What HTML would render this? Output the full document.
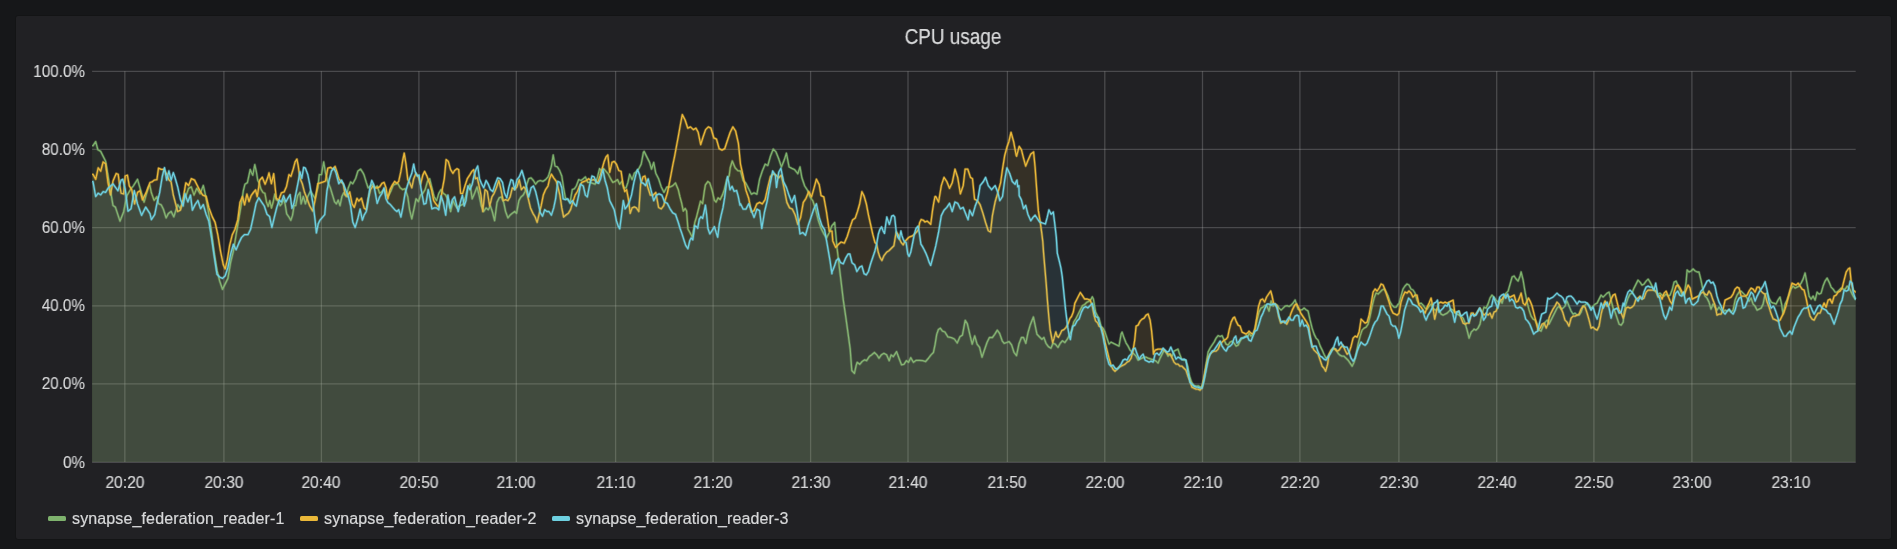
<!DOCTYPE html>
<html><head><meta charset="utf-8"><title>CPU usage</title>
<style>
html,body{margin:0;padding:0;}
body{width:1897px;height:549px;background:#161719;overflow:hidden;position:relative;font-family:"Liberation Sans",sans-serif;}
.panel{position:absolute;left:15px;top:15px;width:1875px;height:523px;background:#212124;border:1px solid #131415;border-radius:3px;}
.title{position:absolute;left:0;top:25px;width:1906px;text-align:center;color:#d8d9da;font-size:22px;line-height:24px;transform:scaleX(0.86);-webkit-text-stroke:0.25px #d8d9da;will-change:transform;}
.xl{position:absolute;top:473px;will-change:transform;transform:scaleX(0.975);-webkit-text-stroke:0.15px #d8d9da;width:80px;text-align:center;color:#d8d9da;font-size:16px;line-height:20px;}
.yl{position:absolute;left:0;width:85px;text-align:right;transform:scaleX(0.955);transform-origin:85px 0;-webkit-text-stroke:0.15px #d8d9da;will-change:transform;color:#d8d9da;font-size:16px;line-height:20px;}
.lg{position:absolute;top:507.5px;-webkit-text-stroke:0.2px #d8d9da;letter-spacing:0.13px;will-change:transform;height:22px;color:#d8d9da;font-size:16px;line-height:22px;}
.sw{position:absolute;width:17.7px;height:5.2px;border-radius:1.5px;top:515.8px;}
svg{position:absolute;left:0;top:0;}
</style></head><body>
<div class="panel"></div>
<div class="title">CPU usage</div>
<svg width="1897" height="549" viewBox="0 0 1897 549">
<g stroke="rgba(200,200,200,0.25)" stroke-width="1.3"><line x1="92.1" y1="71.30" x2="1855.7" y2="71.30"/><line x1="92.1" y1="149.40" x2="1855.7" y2="149.40"/><line x1="92.1" y1="227.65" x2="1855.7" y2="227.65"/><line x1="92.1" y1="305.90" x2="1855.7" y2="305.90"/><line x1="92.1" y1="383.95" x2="1855.7" y2="383.95"/><line x1="92.1" y1="462.30" x2="1855.7" y2="462.30"/><line x1="124.84" y1="71.3" x2="124.84" y2="462.0"/><line x1="223.90" y1="71.3" x2="223.90" y2="462.0"/><line x1="321.40" y1="71.3" x2="321.40" y2="462.0"/><line x1="418.90" y1="71.3" x2="418.90" y2="462.0"/><line x1="516.30" y1="71.3" x2="516.30" y2="462.0"/><line x1="615.60" y1="71.3" x2="615.60" y2="462.0"/><line x1="713.10" y1="71.3" x2="713.10" y2="462.0"/><line x1="810.60" y1="71.3" x2="810.60" y2="462.0"/><line x1="908.00" y1="71.3" x2="908.00" y2="462.0"/><line x1="1007.40" y1="71.3" x2="1007.40" y2="462.0"/><line x1="1104.80" y1="71.3" x2="1104.80" y2="462.0"/><line x1="1202.50" y1="71.3" x2="1202.50" y2="462.0"/><line x1="1299.90" y1="71.3" x2="1299.90" y2="462.0"/><line x1="1398.90" y1="71.3" x2="1398.90" y2="462.0"/><line x1="1496.70" y1="71.3" x2="1496.70" y2="462.0"/><line x1="1593.90" y1="71.3" x2="1593.90" y2="462.0"/><line x1="1691.90" y1="71.3" x2="1691.90" y2="462.0"/><line x1="1790.90" y1="71.3" x2="1790.90" y2="462.0"/></g>
<path d="M92.1,462.0 L92.1,145.7 L93.0,145.7 L95.7,141.6 L97.9,149.8 L100.7,151.4 L105.6,161.2 L109.7,185.8 L113.0,205.5 L115.4,207.1 L120.0,221.1 L123.6,212.0 L126.9,195.7 L130.7,189.1 L133.4,185.8 L137.5,179.3 L140.8,190.7 L144.1,202.2 L148.2,187.5 L149.8,185.1 L151.4,192.8 L154.1,200.4 L156.9,196.6 L158.5,203.7 L161.2,204.8 L163.4,209.2 L166.1,217.9 L168.3,213.6 L171.1,211.4 L173.8,216.8 L177.7,204.6 L180.4,208.7 L183.1,200.5 L185.8,196.4 L188.6,188.3 L191.3,186.9 L194.0,195.1 L196.8,188.3 L200.1,193.7 L203.3,185.5 L206.1,197.8 L208.8,214.2 L211.5,232.0 L214.3,253.8 L217.0,270.2 L219.7,281.1 L222.5,289.3 L225.2,283.9 L227.9,278.4 L230.7,262.0 L233.4,251.1 L236.1,234.7 L238.9,218.3 L240.0,212.1 L241.6,202.3 L243.3,190.8 L244.9,184.3 L247.4,182.6 L249.0,175.2 L250.2,169.5 L251.5,172.8 L252.8,175.2 L254.8,164.6 L256.4,172.0 L257.7,180.2 L259.3,183.4 L261.0,189.2 L263.0,192.5 L264.9,193.3 L266.6,202.3 L268.2,206.4 L269.8,200.7 L271.5,208.0 L273.1,202.3 L274.8,194.1 L276.4,199.8 L278.0,200.7 L280.2,205.6 L281.8,203.9 L283.4,199.0 L285.1,203.9 L286.7,213.8 L288.9,217.0 L290.8,220.3 L292.5,215.4 L294.1,205.6 L295.7,205.6 L297.7,195.7 L300.0,192.5 L301.1,203.8 L303.3,196.5 L305.4,203.8 L307.8,196.5 L310.5,191.0 L312.7,194.6 L315.1,198.3 L317.8,187.4 L319.3,174.6 L321.5,174.6 L323.7,161.9 L325.5,172.8 L327.8,181.9 L330.2,187.4 L332.4,194.6 L334.6,201.9 L336.4,203.8 L338.2,200.1 L340.0,205.6 L341.9,196.5 L343.7,192.8 L346.1,196.5 L348.4,187.4 L350.6,181.9 L352.8,183.7 L355.7,178.3 L357.9,171.0 L360.6,169.1 L363.0,172.8 L364.1,175.1 L366.3,182.4 L368.1,187.8 L370.5,186.0 L372.9,184.2 L375.0,187.8 L377.2,186.0 L379.6,193.3 L382.0,191.5 L384.1,189.6 L386.3,195.1 L388.7,195.1 L391.1,190.6 L393.3,185.1 L395.4,184.2 L397.8,183.3 L400.2,187.8 L402.7,189.6 L405.1,188.7 L407.8,196.9 L409.6,209.7 L411.8,218.8 L414.2,207.9 L416.0,198.8 L418.4,201.5 L420.6,195.1 L422.8,193.3 L425.1,189.6 L427.5,181.4 L429.7,178.7 L431.9,187.8 L434.2,196.9 L436.6,200.6 L438.8,193.3 L441.0,189.6 L443.3,193.3 L445.7,195.1 L448.3,200.6 L450.6,211.5 L453.0,200.6 L454.6,204.2 L456.9,207.9 L459.1,206.0 L461.3,205.1 L463.1,204.2 L465.5,196.9 L467.9,187.8 L470.0,184.2 L472.2,198.8 L474.6,193.3 L477.0,186.9 L479.1,195.1 L481.3,206.0 L483.7,211.5 L486.1,207.9 L488.3,209.7 L490.4,206.0 L492.3,211.5 L494.6,220.6 L497.0,202.4 L499.2,197.8 L501.4,196.9 L503.7,202.4 L505.6,211.5 L507.9,217.9 L510.1,215.1 L512.3,213.3 L514.7,211.5 L516.5,213.3 L518.9,200.6 L521.0,196.9 L523.2,195.1 L525.0,191.5 L526.9,184.2 L528.7,178.7 L531.1,177.8 L533.4,180.5 L535.6,184.2 L537.8,181.4 L540.2,180.5 L542.9,181.4 L545.6,179.6 L548.0,176.9 L549.0,174.2 L551.4,166.0 L553.2,155.0 L555.0,166.0 L557.4,166.9 L559.6,170.5 L561.8,176.0 L563.6,187.8 L565.4,197.8 L567.8,199.7 L570.1,202.4 L572.3,189.6 L574.5,188.7 L576.3,186.0 L578.7,179.6 L581.1,180.5 L583.3,178.7 L585.4,176.9 L587.8,182.4 L590.2,182.4 L592.7,183.3 L595.1,184.2 L597.5,176.9 L599.6,168.7 L601.8,171.4 L603.7,168.7 L606.0,171.4 L608.4,174.2 L610.6,178.7 L612.8,182.4 L615.1,181.4 L617.5,179.6 L619.7,184.2 L621.9,181.4 L623.7,187.8 L626.1,187.8 L627.9,182.4 L629.7,174.2 L632.1,179.6 L634.3,173.3 L636.4,171.4 L638.8,168.7 L641.2,164.1 L643.4,152.3 L644.1,151.4 L646.8,156.9 L649.6,162.4 L651.5,169.2 L653.7,162.4 L655.8,173.3 L658.6,178.8 L661.3,187.0 L664.0,192.4 L666.8,187.0 L670.1,187.0 L672.8,185.6 L675.5,182.9 L678.3,189.7 L680.0,197.0 L681.6,202.8 L683.3,211.0 L685.2,208.5 L686.6,211.0 L687.9,229.0 L689.8,232.3 L692.3,237.2 L694.8,222.5 L696.4,217.5 L698.0,211.0 L700.5,201.1 L702.6,203.6 L704.3,191.3 L705.4,184.8 L707.9,181.5 L709.8,183.1 L712.0,189.7 L714.4,200.3 L716.1,202.0 L718.0,197.9 L720.2,199.5 L722.6,194.6 L724.3,189.7 L726.7,179.8 L729.2,175.7 L730.2,167.8 L732.3,161.0 L735.1,167.8 L737.8,170.6 L740.5,171.0 L743.2,180.5 L745.9,183.3 L748.7,188.7 L751.4,194.2 L754.1,192.8 L756.9,194.2 L759.6,179.2 L762.3,171.0 L765.1,164.2 L767.8,165.5 L770.5,156.0 L773.3,149.1 L776.0,151.9 L778.7,158.7 L781.4,166.9 L784.2,160.1 L786.4,153.2 L789.1,166.9 L791.8,168.3 L794.6,169.6 L797.8,173.7 L800.0,166.9 L801.9,177.8 L804.7,186.0 L807.4,190.1 L810.1,196.9 L812.9,201.0 L815.6,209.2 L818.3,220.2 L821.1,228.4 L823.8,233.8 L826.5,237.9 L829.3,232.5 L832.0,225.6 L834.7,222.5 L837.1,248.4 L843.3,300.0 L845.7,316.4 L848.2,334.4 L850.2,349.2 L851.8,370.5 L854.4,373.4 L856.1,365.6 L857.2,362.3 L859.7,364.3 L862.1,361.5 L864.6,359.8 L866.6,360.7 L869.2,356.6 L871.5,354.9 L874.4,352.5 L876.9,354.9 L879.0,358.2 L881.3,354.9 L883.9,353.3 L886.7,354.9 L889.2,360.7 L891.1,354.9 L893.3,356.6 L896.6,351.6 L899.0,358.2 L901.5,364.8 L903.9,364.3 L906.4,360.7 L908.5,362.3 L910.8,357.7 L913.4,362.3 L916.2,360.3 L919.5,360.3 L922.8,360.7 L925.6,361.5 L928.5,358.2 L931.0,354.9 L933.4,352.5 L935.1,344.3 L936.7,334.4 L938.4,329.5 L940.3,328.2 L942.5,331.1 L944.9,332.0 L947.9,336.9 L951.5,337.7 L954.4,339.0 L957.2,343.0 L959.9,336.7 L962.4,335.1 L965.2,320.3 L967.3,323.6 L969.8,334.3 L972.2,344.1 L974.7,335.9 L977.1,344.1 L979.6,347.4 L982.0,357.2 L984.5,349.8 L987.0,342.5 L989.4,337.5 L992.4,337.5 L994.7,334.3 L997.3,330.2 L999.6,333.4 L1002.2,340.8 L1004.2,343.3 L1006.6,342.5 L1009.1,341.6 L1011.6,344.9 L1014.0,352.3 L1016.5,355.6 L1018.9,344.1 L1021.4,337.5 L1023.5,337.5 L1025.8,343.3 L1028.0,332.6 L1030.4,324.4 L1033.4,317.0 L1035.3,326.1 L1037.0,334.3 L1039.4,336.7 L1041.9,339.2 L1043.9,337.5 L1046.0,343.3 L1048.4,346.6 L1050.9,348.2 L1053.0,343.3 L1055.3,344.1 L1058.0,347.4 L1060.2,343.3 L1062.4,340.8 L1064.8,342.5 L1067.3,339.2 L1069.8,334.3 L1072.2,329.3 L1073.7,322.0 L1075.9,318.7 L1078.1,314.3 L1080.3,309.9 L1082.5,305.6 L1084.6,304.5 L1086.8,302.3 L1089.0,301.2 L1091.2,299.0 L1092.3,296.8 L1093.4,299.0 L1095.6,312.1 L1097.8,316.5 L1099.0,318.1 L1101.0,326.1 L1103.0,328.1 L1105.0,332.1 L1107.0,338.1 L1109.0,344.1 L1111.0,342.1 L1113.0,343.1 L1115.0,344.1 L1117.0,345.1 L1119.0,346.1 L1121.1,334.1 L1122.1,332.1 L1124.1,338.1 L1126.1,343.1 L1128.1,346.1 L1130.1,350.1 L1132.1,352.1 L1134.1,354.1 L1136.1,356.1 L1138.1,360.1 L1140.1,359.1 L1142.1,358.1 L1144.1,357.1 L1146.1,357.1 L1148.1,358.1 L1151.1,359.1 L1154.1,360.1 L1156.1,361.1 L1158.1,363.1 L1160.1,358.1 L1162.1,354.1 L1164.1,350.1 L1166.1,352.1 L1168.1,356.1 L1170.2,354.1 L1172.2,356.1 L1174.0,351.1 L1176.0,350.1 L1178.0,349.1 L1179.6,354.1 L1181.6,359.1 L1183.6,360.1 L1185.6,360.1 L1187.6,366.2 L1189.6,376.2 L1191.6,382.2 L1193.6,385.2 L1196.1,386.2 L1198.5,385.8 L1200.5,387.2 L1202.1,386.2 L1204.1,378.2 L1206.1,364.1 L1208.1,352.1 L1210.1,348.1 L1212.1,345.1 L1214.1,342.1 L1216.1,338.1 L1218.1,335.7 L1220.1,336.5 L1222.1,335.7 L1224.1,340.1 L1226.1,344.1 L1228.1,345.1 L1230.1,342.1 L1232.1,341.1 L1234.1,343.1 L1236.1,346.1 L1238.1,345.1 L1240.1,341.1 L1242.1,338.1 L1244.1,337.1 L1246.2,335.7 L1248.2,336.1 L1249.0,333.1 L1251.0,336.1 L1253.0,334.1 L1255.0,330.1 L1257.0,320.1 L1259.0,312.1 L1261.0,308.1 L1263.0,307.1 L1265.0,305.1 L1267.0,306.1 L1269.0,311.1 L1271.1,301.0 L1273.1,306.1 L1275.1,304.0 L1277.1,305.1 L1279.1,308.1 L1281.1,310.1 L1283.1,308.1 L1285.1,306.1 L1287.1,305.7 L1289.1,306.5 L1291.1,305.1 L1293.1,303.0 L1295.1,300.0 L1296.7,305.1 L1298.1,309.1 L1300.1,310.1 L1302.1,309.7 L1304.1,308.1 L1306.1,309.7 L1308.1,311.1 L1310.1,320.1 L1312.1,328.1 L1314.1,334.1 L1316.1,338.1 L1318.1,340.1 L1320.2,346.1 L1322.2,350.1 L1324.0,354.2 L1326.0,358.2 L1328.0,356.2 L1330.0,353.2 L1332.0,350.2 L1334.0,348.2 L1336.0,349.2 L1338.0,353.2 L1340.0,355.2 L1342.0,356.2 L1344.0,356.2 L1346.1,358.2 L1348.1,360.2 L1350.1,363.2 L1352.1,366.2 L1354.1,362.2 L1356.1,354.2 L1358.1,344.1 L1360.1,336.1 L1362.1,330.1 L1364.1,328.1 L1366.1,327.1 L1368.1,324.1 L1370.1,316.1 L1372.1,306.1 L1374.1,298.1 L1376.1,293.0 L1378.1,294.0 L1380.1,292.0 L1382.1,290.0 L1384.1,289.0 L1386.1,292.0 L1388.1,296.1 L1390.1,302.1 L1392.1,305.1 L1394.1,307.1 L1396.2,307.1 L1398.2,304.1 L1399.0,304.1 L1401.0,296.1 L1403.0,289.0 L1405.0,286.0 L1407.0,284.0 L1409.0,285.0 L1411.0,289.0 L1413.0,290.0 L1415.0,293.0 L1417.0,300.1 L1419.0,304.1 L1421.1,303.1 L1423.1,305.1 L1425.1,308.1 L1427.1,309.1 L1429.1,306.1 L1431.1,304.1 L1433.1,308.1 L1435.1,310.1 L1437.1,309.1 L1439.1,310.1 L1441.1,314.1 L1443.1,315.1 L1445.1,314.1 L1447.1,313.1 L1449.1,311.1 L1451.1,309.1 L1453.1,310.1 L1455.1,313.1 L1457.1,314.1 L1459.1,315.1 L1461.1,316.1 L1463.1,318.1 L1465.1,323.1 L1467.1,330.1 L1469.1,338.1 L1471.2,332.1 L1473.2,330.1 L1474.0,329.1 L1476.0,330.1 L1478.0,328.1 L1480.0,324.1 L1482.0,314.1 L1484.0,307.1 L1486.0,308.1 L1488.0,304.1 L1490.0,298.1 L1492.0,295.1 L1494.0,297.1 L1496.1,300.1 L1498.1,302.1 L1500.1,299.1 L1502.1,303.1 L1504.1,296.1 L1506.1,293.1 L1508.1,291.1 L1510.1,284.0 L1512.1,277.0 L1514.1,276.0 L1516.1,279.0 L1518.1,281.0 L1520.1,276.0 L1521.1,272.0 L1523.1,280.0 L1525.1,292.1 L1527.1,302.1 L1529.1,310.1 L1531.1,316.1 L1533.1,319.1 L1535.1,320.1 L1537.1,324.1 L1539.1,330.1 L1541.1,331.1 L1543.1,326.1 L1545.2,322.1 L1547.2,320.1 L1549.0,324.1 L1551.0,320.1 L1553.0,316.1 L1555.0,312.1 L1557.0,308.1 L1559.0,306.1 L1561.0,309.1 L1563.0,308.1 L1565.0,306.1 L1567.0,301.1 L1569.0,306.1 L1571.1,311.1 L1573.1,314.1 L1575.1,313.1 L1577.1,315.1 L1579.1,315.1 L1581.1,312.1 L1583.1,306.1 L1585.1,305.1 L1587.1,303.1 L1589.1,305.1 L1591.1,308.1 L1593.1,306.1 L1595.1,304.1 L1597.1,303.1 L1599.1,299.1 L1601.1,295.1 L1603.1,297.1 L1605.1,295.1 L1607.1,293.1 L1609.1,292.1 L1611.1,300.1 L1613.1,308.1 L1615.1,312.1 L1617.1,318.1 L1619.1,324.1 L1621.2,325.1 L1623.2,322.1 L1624.0,312.1 L1626.0,304.1 L1628.0,298.1 L1630.0,294.1 L1632.0,293.1 L1634.0,288.1 L1636.0,284.1 L1638.0,280.1 L1640.0,282.1 L1642.0,285.1 L1644.0,284.1 L1646.1,281.1 L1648.1,279.1 L1650.1,282.1 L1652.1,286.1 L1654.1,290.1 L1656.1,292.1 L1658.1,294.1 L1660.1,293.1 L1662.1,295.1 L1664.1,296.1 L1666.1,294.1 L1668.1,296.1 L1670.1,295.1 L1672.1,290.1 L1674.1,282.1 L1676.1,281.1 L1678.1,286.1 L1680.1,290.1 L1682.1,295.1 L1684.1,295.1 L1686.1,282.1 L1687.1,270.0 L1689.1,272.0 L1691.1,271.0 L1693.1,269.0 L1695.2,271.0 L1697.2,272.0 L1699.0,272.0 L1701.0,280.1 L1703.0,290.1 L1705.0,296.1 L1707.0,298.1 L1709.0,302.1 L1711.0,309.1 L1713.0,304.1 L1715.0,307.1 L1717.0,310.1 L1719.0,307.1 L1721.1,310.1 L1723.1,312.1 L1725.1,310.1 L1727.1,311.1 L1729.1,310.1 L1731.1,312.1 L1733.1,310.1 L1735.1,300.1 L1737.1,295.1 L1739.1,292.1 L1741.1,291.1 L1743.1,293.1 L1745.1,295.1 L1747.1,298.1 L1749.1,301.1 L1751.1,298.1 L1753.1,304.1 L1755.1,306.1 L1757.1,310.1 L1759.1,309.1 L1761.1,308.1 L1763.1,304.1 L1765.1,294.1 L1767.1,293.1 L1769.1,298.1 L1771.2,302.1 L1773.2,303.1 L1774.0,303.1 L1776.0,304.1 L1778.0,300.1 L1780.0,297.1 L1781.6,304.1 L1783.0,314.1 L1785.0,304.1 L1787.0,300.1 L1789.0,295.1 L1791.0,289.1 L1793.0,286.1 L1795.1,288.1 L1797.1,287.1 L1799.1,286.1 L1801.1,283.1 L1803.1,279.1 L1805.1,273.0 L1807.1,284.1 L1809.1,296.1 L1811.1,299.1 L1813.1,296.1 L1815.1,300.1 L1817.1,292.1 L1819.1,294.1 L1821.1,293.1 L1823.1,286.1 L1825.1,281.1 L1827.1,278.1 L1829.1,282.1 L1831.1,287.1 L1833.1,289.1 L1835.1,292.1 L1837.1,292.1 L1839.1,290.1 L1841.1,288.1 L1843.1,289.1 L1845.2,289.1 L1847.2,286.1 L1849.2,288.1 L1851.2,292.1 L1853.2,296.1 L1855.4,299.1 L1855.7,299.1 L1855.7,462.0 Z" fill="#7EB26D" fill-opacity="0.1" stroke="none"/><polyline points="92.1,145.7 93.0,145.7 95.7,141.6 97.9,149.8 100.7,151.4 105.6,161.2 109.7,185.8 113.0,205.5 115.4,207.1 120.0,221.1 123.6,212.0 126.9,195.7 130.7,189.1 133.4,185.8 137.5,179.3 140.8,190.7 144.1,202.2 148.2,187.5 149.8,185.1 151.4,192.8 154.1,200.4 156.9,196.6 158.5,203.7 161.2,204.8 163.4,209.2 166.1,217.9 168.3,213.6 171.1,211.4 173.8,216.8 177.7,204.6 180.4,208.7 183.1,200.5 185.8,196.4 188.6,188.3 191.3,186.9 194.0,195.1 196.8,188.3 200.1,193.7 203.3,185.5 206.1,197.8 208.8,214.2 211.5,232.0 214.3,253.8 217.0,270.2 219.7,281.1 222.5,289.3 225.2,283.9 227.9,278.4 230.7,262.0 233.4,251.1 236.1,234.7 238.9,218.3 240.0,212.1 241.6,202.3 243.3,190.8 244.9,184.3 247.4,182.6 249.0,175.2 250.2,169.5 251.5,172.8 252.8,175.2 254.8,164.6 256.4,172.0 257.7,180.2 259.3,183.4 261.0,189.2 263.0,192.5 264.9,193.3 266.6,202.3 268.2,206.4 269.8,200.7 271.5,208.0 273.1,202.3 274.8,194.1 276.4,199.8 278.0,200.7 280.2,205.6 281.8,203.9 283.4,199.0 285.1,203.9 286.7,213.8 288.9,217.0 290.8,220.3 292.5,215.4 294.1,205.6 295.7,205.6 297.7,195.7 300.0,192.5 301.1,203.8 303.3,196.5 305.4,203.8 307.8,196.5 310.5,191.0 312.7,194.6 315.1,198.3 317.8,187.4 319.3,174.6 321.5,174.6 323.7,161.9 325.5,172.8 327.8,181.9 330.2,187.4 332.4,194.6 334.6,201.9 336.4,203.8 338.2,200.1 340.0,205.6 341.9,196.5 343.7,192.8 346.1,196.5 348.4,187.4 350.6,181.9 352.8,183.7 355.7,178.3 357.9,171.0 360.6,169.1 363.0,172.8 364.1,175.1 366.3,182.4 368.1,187.8 370.5,186.0 372.9,184.2 375.0,187.8 377.2,186.0 379.6,193.3 382.0,191.5 384.1,189.6 386.3,195.1 388.7,195.1 391.1,190.6 393.3,185.1 395.4,184.2 397.8,183.3 400.2,187.8 402.7,189.6 405.1,188.7 407.8,196.9 409.6,209.7 411.8,218.8 414.2,207.9 416.0,198.8 418.4,201.5 420.6,195.1 422.8,193.3 425.1,189.6 427.5,181.4 429.7,178.7 431.9,187.8 434.2,196.9 436.6,200.6 438.8,193.3 441.0,189.6 443.3,193.3 445.7,195.1 448.3,200.6 450.6,211.5 453.0,200.6 454.6,204.2 456.9,207.9 459.1,206.0 461.3,205.1 463.1,204.2 465.5,196.9 467.9,187.8 470.0,184.2 472.2,198.8 474.6,193.3 477.0,186.9 479.1,195.1 481.3,206.0 483.7,211.5 486.1,207.9 488.3,209.7 490.4,206.0 492.3,211.5 494.6,220.6 497.0,202.4 499.2,197.8 501.4,196.9 503.7,202.4 505.6,211.5 507.9,217.9 510.1,215.1 512.3,213.3 514.7,211.5 516.5,213.3 518.9,200.6 521.0,196.9 523.2,195.1 525.0,191.5 526.9,184.2 528.7,178.7 531.1,177.8 533.4,180.5 535.6,184.2 537.8,181.4 540.2,180.5 542.9,181.4 545.6,179.6 548.0,176.9 549.0,174.2 551.4,166.0 553.2,155.0 555.0,166.0 557.4,166.9 559.6,170.5 561.8,176.0 563.6,187.8 565.4,197.8 567.8,199.7 570.1,202.4 572.3,189.6 574.5,188.7 576.3,186.0 578.7,179.6 581.1,180.5 583.3,178.7 585.4,176.9 587.8,182.4 590.2,182.4 592.7,183.3 595.1,184.2 597.5,176.9 599.6,168.7 601.8,171.4 603.7,168.7 606.0,171.4 608.4,174.2 610.6,178.7 612.8,182.4 615.1,181.4 617.5,179.6 619.7,184.2 621.9,181.4 623.7,187.8 626.1,187.8 627.9,182.4 629.7,174.2 632.1,179.6 634.3,173.3 636.4,171.4 638.8,168.7 641.2,164.1 643.4,152.3 644.1,151.4 646.8,156.9 649.6,162.4 651.5,169.2 653.7,162.4 655.8,173.3 658.6,178.8 661.3,187.0 664.0,192.4 666.8,187.0 670.1,187.0 672.8,185.6 675.5,182.9 678.3,189.7 680.0,197.0 681.6,202.8 683.3,211.0 685.2,208.5 686.6,211.0 687.9,229.0 689.8,232.3 692.3,237.2 694.8,222.5 696.4,217.5 698.0,211.0 700.5,201.1 702.6,203.6 704.3,191.3 705.4,184.8 707.9,181.5 709.8,183.1 712.0,189.7 714.4,200.3 716.1,202.0 718.0,197.9 720.2,199.5 722.6,194.6 724.3,189.7 726.7,179.8 729.2,175.7 730.2,167.8 732.3,161.0 735.1,167.8 737.8,170.6 740.5,171.0 743.2,180.5 745.9,183.3 748.7,188.7 751.4,194.2 754.1,192.8 756.9,194.2 759.6,179.2 762.3,171.0 765.1,164.2 767.8,165.5 770.5,156.0 773.3,149.1 776.0,151.9 778.7,158.7 781.4,166.9 784.2,160.1 786.4,153.2 789.1,166.9 791.8,168.3 794.6,169.6 797.8,173.7 800.0,166.9 801.9,177.8 804.7,186.0 807.4,190.1 810.1,196.9 812.9,201.0 815.6,209.2 818.3,220.2 821.1,228.4 823.8,233.8 826.5,237.9 829.3,232.5 832.0,225.6 834.7,222.5 837.1,248.4 843.3,300.0 845.7,316.4 848.2,334.4 850.2,349.2 851.8,370.5 854.4,373.4 856.1,365.6 857.2,362.3 859.7,364.3 862.1,361.5 864.6,359.8 866.6,360.7 869.2,356.6 871.5,354.9 874.4,352.5 876.9,354.9 879.0,358.2 881.3,354.9 883.9,353.3 886.7,354.9 889.2,360.7 891.1,354.9 893.3,356.6 896.6,351.6 899.0,358.2 901.5,364.8 903.9,364.3 906.4,360.7 908.5,362.3 910.8,357.7 913.4,362.3 916.2,360.3 919.5,360.3 922.8,360.7 925.6,361.5 928.5,358.2 931.0,354.9 933.4,352.5 935.1,344.3 936.7,334.4 938.4,329.5 940.3,328.2 942.5,331.1 944.9,332.0 947.9,336.9 951.5,337.7 954.4,339.0 957.2,343.0 959.9,336.7 962.4,335.1 965.2,320.3 967.3,323.6 969.8,334.3 972.2,344.1 974.7,335.9 977.1,344.1 979.6,347.4 982.0,357.2 984.5,349.8 987.0,342.5 989.4,337.5 992.4,337.5 994.7,334.3 997.3,330.2 999.6,333.4 1002.2,340.8 1004.2,343.3 1006.6,342.5 1009.1,341.6 1011.6,344.9 1014.0,352.3 1016.5,355.6 1018.9,344.1 1021.4,337.5 1023.5,337.5 1025.8,343.3 1028.0,332.6 1030.4,324.4 1033.4,317.0 1035.3,326.1 1037.0,334.3 1039.4,336.7 1041.9,339.2 1043.9,337.5 1046.0,343.3 1048.4,346.6 1050.9,348.2 1053.0,343.3 1055.3,344.1 1058.0,347.4 1060.2,343.3 1062.4,340.8 1064.8,342.5 1067.3,339.2 1069.8,334.3 1072.2,329.3 1073.7,322.0 1075.9,318.7 1078.1,314.3 1080.3,309.9 1082.5,305.6 1084.6,304.5 1086.8,302.3 1089.0,301.2 1091.2,299.0 1092.3,296.8 1093.4,299.0 1095.6,312.1 1097.8,316.5 1099.0,318.1 1101.0,326.1 1103.0,328.1 1105.0,332.1 1107.0,338.1 1109.0,344.1 1111.0,342.1 1113.0,343.1 1115.0,344.1 1117.0,345.1 1119.0,346.1 1121.1,334.1 1122.1,332.1 1124.1,338.1 1126.1,343.1 1128.1,346.1 1130.1,350.1 1132.1,352.1 1134.1,354.1 1136.1,356.1 1138.1,360.1 1140.1,359.1 1142.1,358.1 1144.1,357.1 1146.1,357.1 1148.1,358.1 1151.1,359.1 1154.1,360.1 1156.1,361.1 1158.1,363.1 1160.1,358.1 1162.1,354.1 1164.1,350.1 1166.1,352.1 1168.1,356.1 1170.2,354.1 1172.2,356.1 1174.0,351.1 1176.0,350.1 1178.0,349.1 1179.6,354.1 1181.6,359.1 1183.6,360.1 1185.6,360.1 1187.6,366.2 1189.6,376.2 1191.6,382.2 1193.6,385.2 1196.1,386.2 1198.5,385.8 1200.5,387.2 1202.1,386.2 1204.1,378.2 1206.1,364.1 1208.1,352.1 1210.1,348.1 1212.1,345.1 1214.1,342.1 1216.1,338.1 1218.1,335.7 1220.1,336.5 1222.1,335.7 1224.1,340.1 1226.1,344.1 1228.1,345.1 1230.1,342.1 1232.1,341.1 1234.1,343.1 1236.1,346.1 1238.1,345.1 1240.1,341.1 1242.1,338.1 1244.1,337.1 1246.2,335.7 1248.2,336.1 1249.0,333.1 1251.0,336.1 1253.0,334.1 1255.0,330.1 1257.0,320.1 1259.0,312.1 1261.0,308.1 1263.0,307.1 1265.0,305.1 1267.0,306.1 1269.0,311.1 1271.1,301.0 1273.1,306.1 1275.1,304.0 1277.1,305.1 1279.1,308.1 1281.1,310.1 1283.1,308.1 1285.1,306.1 1287.1,305.7 1289.1,306.5 1291.1,305.1 1293.1,303.0 1295.1,300.0 1296.7,305.1 1298.1,309.1 1300.1,310.1 1302.1,309.7 1304.1,308.1 1306.1,309.7 1308.1,311.1 1310.1,320.1 1312.1,328.1 1314.1,334.1 1316.1,338.1 1318.1,340.1 1320.2,346.1 1322.2,350.1 1324.0,354.2 1326.0,358.2 1328.0,356.2 1330.0,353.2 1332.0,350.2 1334.0,348.2 1336.0,349.2 1338.0,353.2 1340.0,355.2 1342.0,356.2 1344.0,356.2 1346.1,358.2 1348.1,360.2 1350.1,363.2 1352.1,366.2 1354.1,362.2 1356.1,354.2 1358.1,344.1 1360.1,336.1 1362.1,330.1 1364.1,328.1 1366.1,327.1 1368.1,324.1 1370.1,316.1 1372.1,306.1 1374.1,298.1 1376.1,293.0 1378.1,294.0 1380.1,292.0 1382.1,290.0 1384.1,289.0 1386.1,292.0 1388.1,296.1 1390.1,302.1 1392.1,305.1 1394.1,307.1 1396.2,307.1 1398.2,304.1 1399.0,304.1 1401.0,296.1 1403.0,289.0 1405.0,286.0 1407.0,284.0 1409.0,285.0 1411.0,289.0 1413.0,290.0 1415.0,293.0 1417.0,300.1 1419.0,304.1 1421.1,303.1 1423.1,305.1 1425.1,308.1 1427.1,309.1 1429.1,306.1 1431.1,304.1 1433.1,308.1 1435.1,310.1 1437.1,309.1 1439.1,310.1 1441.1,314.1 1443.1,315.1 1445.1,314.1 1447.1,313.1 1449.1,311.1 1451.1,309.1 1453.1,310.1 1455.1,313.1 1457.1,314.1 1459.1,315.1 1461.1,316.1 1463.1,318.1 1465.1,323.1 1467.1,330.1 1469.1,338.1 1471.2,332.1 1473.2,330.1 1474.0,329.1 1476.0,330.1 1478.0,328.1 1480.0,324.1 1482.0,314.1 1484.0,307.1 1486.0,308.1 1488.0,304.1 1490.0,298.1 1492.0,295.1 1494.0,297.1 1496.1,300.1 1498.1,302.1 1500.1,299.1 1502.1,303.1 1504.1,296.1 1506.1,293.1 1508.1,291.1 1510.1,284.0 1512.1,277.0 1514.1,276.0 1516.1,279.0 1518.1,281.0 1520.1,276.0 1521.1,272.0 1523.1,280.0 1525.1,292.1 1527.1,302.1 1529.1,310.1 1531.1,316.1 1533.1,319.1 1535.1,320.1 1537.1,324.1 1539.1,330.1 1541.1,331.1 1543.1,326.1 1545.2,322.1 1547.2,320.1 1549.0,324.1 1551.0,320.1 1553.0,316.1 1555.0,312.1 1557.0,308.1 1559.0,306.1 1561.0,309.1 1563.0,308.1 1565.0,306.1 1567.0,301.1 1569.0,306.1 1571.1,311.1 1573.1,314.1 1575.1,313.1 1577.1,315.1 1579.1,315.1 1581.1,312.1 1583.1,306.1 1585.1,305.1 1587.1,303.1 1589.1,305.1 1591.1,308.1 1593.1,306.1 1595.1,304.1 1597.1,303.1 1599.1,299.1 1601.1,295.1 1603.1,297.1 1605.1,295.1 1607.1,293.1 1609.1,292.1 1611.1,300.1 1613.1,308.1 1615.1,312.1 1617.1,318.1 1619.1,324.1 1621.2,325.1 1623.2,322.1 1624.0,312.1 1626.0,304.1 1628.0,298.1 1630.0,294.1 1632.0,293.1 1634.0,288.1 1636.0,284.1 1638.0,280.1 1640.0,282.1 1642.0,285.1 1644.0,284.1 1646.1,281.1 1648.1,279.1 1650.1,282.1 1652.1,286.1 1654.1,290.1 1656.1,292.1 1658.1,294.1 1660.1,293.1 1662.1,295.1 1664.1,296.1 1666.1,294.1 1668.1,296.1 1670.1,295.1 1672.1,290.1 1674.1,282.1 1676.1,281.1 1678.1,286.1 1680.1,290.1 1682.1,295.1 1684.1,295.1 1686.1,282.1 1687.1,270.0 1689.1,272.0 1691.1,271.0 1693.1,269.0 1695.2,271.0 1697.2,272.0 1699.0,272.0 1701.0,280.1 1703.0,290.1 1705.0,296.1 1707.0,298.1 1709.0,302.1 1711.0,309.1 1713.0,304.1 1715.0,307.1 1717.0,310.1 1719.0,307.1 1721.1,310.1 1723.1,312.1 1725.1,310.1 1727.1,311.1 1729.1,310.1 1731.1,312.1 1733.1,310.1 1735.1,300.1 1737.1,295.1 1739.1,292.1 1741.1,291.1 1743.1,293.1 1745.1,295.1 1747.1,298.1 1749.1,301.1 1751.1,298.1 1753.1,304.1 1755.1,306.1 1757.1,310.1 1759.1,309.1 1761.1,308.1 1763.1,304.1 1765.1,294.1 1767.1,293.1 1769.1,298.1 1771.2,302.1 1773.2,303.1 1774.0,303.1 1776.0,304.1 1778.0,300.1 1780.0,297.1 1781.6,304.1 1783.0,314.1 1785.0,304.1 1787.0,300.1 1789.0,295.1 1791.0,289.1 1793.0,286.1 1795.1,288.1 1797.1,287.1 1799.1,286.1 1801.1,283.1 1803.1,279.1 1805.1,273.0 1807.1,284.1 1809.1,296.1 1811.1,299.1 1813.1,296.1 1815.1,300.1 1817.1,292.1 1819.1,294.1 1821.1,293.1 1823.1,286.1 1825.1,281.1 1827.1,278.1 1829.1,282.1 1831.1,287.1 1833.1,289.1 1835.1,292.1 1837.1,292.1 1839.1,290.1 1841.1,288.1 1843.1,289.1 1845.2,289.1 1847.2,286.1 1849.2,288.1 1851.2,292.1 1853.2,296.1 1855.4,299.1 1855.7,299.1" fill="none" stroke="#7EB26D" stroke-opacity="0.35" stroke-width="2.7" stroke-linejoin="round"/><polyline points="92.1,145.7 93.0,145.7 95.7,141.6 97.9,149.8 100.7,151.4 105.6,161.2 109.7,185.8 113.0,205.5 115.4,207.1 120.0,221.1 123.6,212.0 126.9,195.7 130.7,189.1 133.4,185.8 137.5,179.3 140.8,190.7 144.1,202.2 148.2,187.5 149.8,185.1 151.4,192.8 154.1,200.4 156.9,196.6 158.5,203.7 161.2,204.8 163.4,209.2 166.1,217.9 168.3,213.6 171.1,211.4 173.8,216.8 177.7,204.6 180.4,208.7 183.1,200.5 185.8,196.4 188.6,188.3 191.3,186.9 194.0,195.1 196.8,188.3 200.1,193.7 203.3,185.5 206.1,197.8 208.8,214.2 211.5,232.0 214.3,253.8 217.0,270.2 219.7,281.1 222.5,289.3 225.2,283.9 227.9,278.4 230.7,262.0 233.4,251.1 236.1,234.7 238.9,218.3 240.0,212.1 241.6,202.3 243.3,190.8 244.9,184.3 247.4,182.6 249.0,175.2 250.2,169.5 251.5,172.8 252.8,175.2 254.8,164.6 256.4,172.0 257.7,180.2 259.3,183.4 261.0,189.2 263.0,192.5 264.9,193.3 266.6,202.3 268.2,206.4 269.8,200.7 271.5,208.0 273.1,202.3 274.8,194.1 276.4,199.8 278.0,200.7 280.2,205.6 281.8,203.9 283.4,199.0 285.1,203.9 286.7,213.8 288.9,217.0 290.8,220.3 292.5,215.4 294.1,205.6 295.7,205.6 297.7,195.7 300.0,192.5 301.1,203.8 303.3,196.5 305.4,203.8 307.8,196.5 310.5,191.0 312.7,194.6 315.1,198.3 317.8,187.4 319.3,174.6 321.5,174.6 323.7,161.9 325.5,172.8 327.8,181.9 330.2,187.4 332.4,194.6 334.6,201.9 336.4,203.8 338.2,200.1 340.0,205.6 341.9,196.5 343.7,192.8 346.1,196.5 348.4,187.4 350.6,181.9 352.8,183.7 355.7,178.3 357.9,171.0 360.6,169.1 363.0,172.8 364.1,175.1 366.3,182.4 368.1,187.8 370.5,186.0 372.9,184.2 375.0,187.8 377.2,186.0 379.6,193.3 382.0,191.5 384.1,189.6 386.3,195.1 388.7,195.1 391.1,190.6 393.3,185.1 395.4,184.2 397.8,183.3 400.2,187.8 402.7,189.6 405.1,188.7 407.8,196.9 409.6,209.7 411.8,218.8 414.2,207.9 416.0,198.8 418.4,201.5 420.6,195.1 422.8,193.3 425.1,189.6 427.5,181.4 429.7,178.7 431.9,187.8 434.2,196.9 436.6,200.6 438.8,193.3 441.0,189.6 443.3,193.3 445.7,195.1 448.3,200.6 450.6,211.5 453.0,200.6 454.6,204.2 456.9,207.9 459.1,206.0 461.3,205.1 463.1,204.2 465.5,196.9 467.9,187.8 470.0,184.2 472.2,198.8 474.6,193.3 477.0,186.9 479.1,195.1 481.3,206.0 483.7,211.5 486.1,207.9 488.3,209.7 490.4,206.0 492.3,211.5 494.6,220.6 497.0,202.4 499.2,197.8 501.4,196.9 503.7,202.4 505.6,211.5 507.9,217.9 510.1,215.1 512.3,213.3 514.7,211.5 516.5,213.3 518.9,200.6 521.0,196.9 523.2,195.1 525.0,191.5 526.9,184.2 528.7,178.7 531.1,177.8 533.4,180.5 535.6,184.2 537.8,181.4 540.2,180.5 542.9,181.4 545.6,179.6 548.0,176.9 549.0,174.2 551.4,166.0 553.2,155.0 555.0,166.0 557.4,166.9 559.6,170.5 561.8,176.0 563.6,187.8 565.4,197.8 567.8,199.7 570.1,202.4 572.3,189.6 574.5,188.7 576.3,186.0 578.7,179.6 581.1,180.5 583.3,178.7 585.4,176.9 587.8,182.4 590.2,182.4 592.7,183.3 595.1,184.2 597.5,176.9 599.6,168.7 601.8,171.4 603.7,168.7 606.0,171.4 608.4,174.2 610.6,178.7 612.8,182.4 615.1,181.4 617.5,179.6 619.7,184.2 621.9,181.4 623.7,187.8 626.1,187.8 627.9,182.4 629.7,174.2 632.1,179.6 634.3,173.3 636.4,171.4 638.8,168.7 641.2,164.1 643.4,152.3 644.1,151.4 646.8,156.9 649.6,162.4 651.5,169.2 653.7,162.4 655.8,173.3 658.6,178.8 661.3,187.0 664.0,192.4 666.8,187.0 670.1,187.0 672.8,185.6 675.5,182.9 678.3,189.7 680.0,197.0 681.6,202.8 683.3,211.0 685.2,208.5 686.6,211.0 687.9,229.0 689.8,232.3 692.3,237.2 694.8,222.5 696.4,217.5 698.0,211.0 700.5,201.1 702.6,203.6 704.3,191.3 705.4,184.8 707.9,181.5 709.8,183.1 712.0,189.7 714.4,200.3 716.1,202.0 718.0,197.9 720.2,199.5 722.6,194.6 724.3,189.7 726.7,179.8 729.2,175.7 730.2,167.8 732.3,161.0 735.1,167.8 737.8,170.6 740.5,171.0 743.2,180.5 745.9,183.3 748.7,188.7 751.4,194.2 754.1,192.8 756.9,194.2 759.6,179.2 762.3,171.0 765.1,164.2 767.8,165.5 770.5,156.0 773.3,149.1 776.0,151.9 778.7,158.7 781.4,166.9 784.2,160.1 786.4,153.2 789.1,166.9 791.8,168.3 794.6,169.6 797.8,173.7 800.0,166.9 801.9,177.8 804.7,186.0 807.4,190.1 810.1,196.9 812.9,201.0 815.6,209.2 818.3,220.2 821.1,228.4 823.8,233.8 826.5,237.9 829.3,232.5 832.0,225.6 834.7,222.5 837.1,248.4 843.3,300.0 845.7,316.4 848.2,334.4 850.2,349.2 851.8,370.5 854.4,373.4 856.1,365.6 857.2,362.3 859.7,364.3 862.1,361.5 864.6,359.8 866.6,360.7 869.2,356.6 871.5,354.9 874.4,352.5 876.9,354.9 879.0,358.2 881.3,354.9 883.9,353.3 886.7,354.9 889.2,360.7 891.1,354.9 893.3,356.6 896.6,351.6 899.0,358.2 901.5,364.8 903.9,364.3 906.4,360.7 908.5,362.3 910.8,357.7 913.4,362.3 916.2,360.3 919.5,360.3 922.8,360.7 925.6,361.5 928.5,358.2 931.0,354.9 933.4,352.5 935.1,344.3 936.7,334.4 938.4,329.5 940.3,328.2 942.5,331.1 944.9,332.0 947.9,336.9 951.5,337.7 954.4,339.0 957.2,343.0 959.9,336.7 962.4,335.1 965.2,320.3 967.3,323.6 969.8,334.3 972.2,344.1 974.7,335.9 977.1,344.1 979.6,347.4 982.0,357.2 984.5,349.8 987.0,342.5 989.4,337.5 992.4,337.5 994.7,334.3 997.3,330.2 999.6,333.4 1002.2,340.8 1004.2,343.3 1006.6,342.5 1009.1,341.6 1011.6,344.9 1014.0,352.3 1016.5,355.6 1018.9,344.1 1021.4,337.5 1023.5,337.5 1025.8,343.3 1028.0,332.6 1030.4,324.4 1033.4,317.0 1035.3,326.1 1037.0,334.3 1039.4,336.7 1041.9,339.2 1043.9,337.5 1046.0,343.3 1048.4,346.6 1050.9,348.2 1053.0,343.3 1055.3,344.1 1058.0,347.4 1060.2,343.3 1062.4,340.8 1064.8,342.5 1067.3,339.2 1069.8,334.3 1072.2,329.3 1073.7,322.0 1075.9,318.7 1078.1,314.3 1080.3,309.9 1082.5,305.6 1084.6,304.5 1086.8,302.3 1089.0,301.2 1091.2,299.0 1092.3,296.8 1093.4,299.0 1095.6,312.1 1097.8,316.5 1099.0,318.1 1101.0,326.1 1103.0,328.1 1105.0,332.1 1107.0,338.1 1109.0,344.1 1111.0,342.1 1113.0,343.1 1115.0,344.1 1117.0,345.1 1119.0,346.1 1121.1,334.1 1122.1,332.1 1124.1,338.1 1126.1,343.1 1128.1,346.1 1130.1,350.1 1132.1,352.1 1134.1,354.1 1136.1,356.1 1138.1,360.1 1140.1,359.1 1142.1,358.1 1144.1,357.1 1146.1,357.1 1148.1,358.1 1151.1,359.1 1154.1,360.1 1156.1,361.1 1158.1,363.1 1160.1,358.1 1162.1,354.1 1164.1,350.1 1166.1,352.1 1168.1,356.1 1170.2,354.1 1172.2,356.1 1174.0,351.1 1176.0,350.1 1178.0,349.1 1179.6,354.1 1181.6,359.1 1183.6,360.1 1185.6,360.1 1187.6,366.2 1189.6,376.2 1191.6,382.2 1193.6,385.2 1196.1,386.2 1198.5,385.8 1200.5,387.2 1202.1,386.2 1204.1,378.2 1206.1,364.1 1208.1,352.1 1210.1,348.1 1212.1,345.1 1214.1,342.1 1216.1,338.1 1218.1,335.7 1220.1,336.5 1222.1,335.7 1224.1,340.1 1226.1,344.1 1228.1,345.1 1230.1,342.1 1232.1,341.1 1234.1,343.1 1236.1,346.1 1238.1,345.1 1240.1,341.1 1242.1,338.1 1244.1,337.1 1246.2,335.7 1248.2,336.1 1249.0,333.1 1251.0,336.1 1253.0,334.1 1255.0,330.1 1257.0,320.1 1259.0,312.1 1261.0,308.1 1263.0,307.1 1265.0,305.1 1267.0,306.1 1269.0,311.1 1271.1,301.0 1273.1,306.1 1275.1,304.0 1277.1,305.1 1279.1,308.1 1281.1,310.1 1283.1,308.1 1285.1,306.1 1287.1,305.7 1289.1,306.5 1291.1,305.1 1293.1,303.0 1295.1,300.0 1296.7,305.1 1298.1,309.1 1300.1,310.1 1302.1,309.7 1304.1,308.1 1306.1,309.7 1308.1,311.1 1310.1,320.1 1312.1,328.1 1314.1,334.1 1316.1,338.1 1318.1,340.1 1320.2,346.1 1322.2,350.1 1324.0,354.2 1326.0,358.2 1328.0,356.2 1330.0,353.2 1332.0,350.2 1334.0,348.2 1336.0,349.2 1338.0,353.2 1340.0,355.2 1342.0,356.2 1344.0,356.2 1346.1,358.2 1348.1,360.2 1350.1,363.2 1352.1,366.2 1354.1,362.2 1356.1,354.2 1358.1,344.1 1360.1,336.1 1362.1,330.1 1364.1,328.1 1366.1,327.1 1368.1,324.1 1370.1,316.1 1372.1,306.1 1374.1,298.1 1376.1,293.0 1378.1,294.0 1380.1,292.0 1382.1,290.0 1384.1,289.0 1386.1,292.0 1388.1,296.1 1390.1,302.1 1392.1,305.1 1394.1,307.1 1396.2,307.1 1398.2,304.1 1399.0,304.1 1401.0,296.1 1403.0,289.0 1405.0,286.0 1407.0,284.0 1409.0,285.0 1411.0,289.0 1413.0,290.0 1415.0,293.0 1417.0,300.1 1419.0,304.1 1421.1,303.1 1423.1,305.1 1425.1,308.1 1427.1,309.1 1429.1,306.1 1431.1,304.1 1433.1,308.1 1435.1,310.1 1437.1,309.1 1439.1,310.1 1441.1,314.1 1443.1,315.1 1445.1,314.1 1447.1,313.1 1449.1,311.1 1451.1,309.1 1453.1,310.1 1455.1,313.1 1457.1,314.1 1459.1,315.1 1461.1,316.1 1463.1,318.1 1465.1,323.1 1467.1,330.1 1469.1,338.1 1471.2,332.1 1473.2,330.1 1474.0,329.1 1476.0,330.1 1478.0,328.1 1480.0,324.1 1482.0,314.1 1484.0,307.1 1486.0,308.1 1488.0,304.1 1490.0,298.1 1492.0,295.1 1494.0,297.1 1496.1,300.1 1498.1,302.1 1500.1,299.1 1502.1,303.1 1504.1,296.1 1506.1,293.1 1508.1,291.1 1510.1,284.0 1512.1,277.0 1514.1,276.0 1516.1,279.0 1518.1,281.0 1520.1,276.0 1521.1,272.0 1523.1,280.0 1525.1,292.1 1527.1,302.1 1529.1,310.1 1531.1,316.1 1533.1,319.1 1535.1,320.1 1537.1,324.1 1539.1,330.1 1541.1,331.1 1543.1,326.1 1545.2,322.1 1547.2,320.1 1549.0,324.1 1551.0,320.1 1553.0,316.1 1555.0,312.1 1557.0,308.1 1559.0,306.1 1561.0,309.1 1563.0,308.1 1565.0,306.1 1567.0,301.1 1569.0,306.1 1571.1,311.1 1573.1,314.1 1575.1,313.1 1577.1,315.1 1579.1,315.1 1581.1,312.1 1583.1,306.1 1585.1,305.1 1587.1,303.1 1589.1,305.1 1591.1,308.1 1593.1,306.1 1595.1,304.1 1597.1,303.1 1599.1,299.1 1601.1,295.1 1603.1,297.1 1605.1,295.1 1607.1,293.1 1609.1,292.1 1611.1,300.1 1613.1,308.1 1615.1,312.1 1617.1,318.1 1619.1,324.1 1621.2,325.1 1623.2,322.1 1624.0,312.1 1626.0,304.1 1628.0,298.1 1630.0,294.1 1632.0,293.1 1634.0,288.1 1636.0,284.1 1638.0,280.1 1640.0,282.1 1642.0,285.1 1644.0,284.1 1646.1,281.1 1648.1,279.1 1650.1,282.1 1652.1,286.1 1654.1,290.1 1656.1,292.1 1658.1,294.1 1660.1,293.1 1662.1,295.1 1664.1,296.1 1666.1,294.1 1668.1,296.1 1670.1,295.1 1672.1,290.1 1674.1,282.1 1676.1,281.1 1678.1,286.1 1680.1,290.1 1682.1,295.1 1684.1,295.1 1686.1,282.1 1687.1,270.0 1689.1,272.0 1691.1,271.0 1693.1,269.0 1695.2,271.0 1697.2,272.0 1699.0,272.0 1701.0,280.1 1703.0,290.1 1705.0,296.1 1707.0,298.1 1709.0,302.1 1711.0,309.1 1713.0,304.1 1715.0,307.1 1717.0,310.1 1719.0,307.1 1721.1,310.1 1723.1,312.1 1725.1,310.1 1727.1,311.1 1729.1,310.1 1731.1,312.1 1733.1,310.1 1735.1,300.1 1737.1,295.1 1739.1,292.1 1741.1,291.1 1743.1,293.1 1745.1,295.1 1747.1,298.1 1749.1,301.1 1751.1,298.1 1753.1,304.1 1755.1,306.1 1757.1,310.1 1759.1,309.1 1761.1,308.1 1763.1,304.1 1765.1,294.1 1767.1,293.1 1769.1,298.1 1771.2,302.1 1773.2,303.1 1774.0,303.1 1776.0,304.1 1778.0,300.1 1780.0,297.1 1781.6,304.1 1783.0,314.1 1785.0,304.1 1787.0,300.1 1789.0,295.1 1791.0,289.1 1793.0,286.1 1795.1,288.1 1797.1,287.1 1799.1,286.1 1801.1,283.1 1803.1,279.1 1805.1,273.0 1807.1,284.1 1809.1,296.1 1811.1,299.1 1813.1,296.1 1815.1,300.1 1817.1,292.1 1819.1,294.1 1821.1,293.1 1823.1,286.1 1825.1,281.1 1827.1,278.1 1829.1,282.1 1831.1,287.1 1833.1,289.1 1835.1,292.1 1837.1,292.1 1839.1,290.1 1841.1,288.1 1843.1,289.1 1845.2,289.1 1847.2,286.1 1849.2,288.1 1851.2,292.1 1853.2,296.1 1855.4,299.1 1855.7,299.1" fill="none" stroke="#7EB26D" stroke-width="1.3" stroke-linejoin="round"/><path d="M92.1,462.0 L92.1,174.3 L93.0,174.3 L95.7,179.3 L98.2,167.8 L100.7,171.1 L103.1,162.0 L105.6,163.7 L108.0,182.5 L110.5,194.8 L113.0,180.9 L116.2,173.5 L118.2,174.3 L119.5,184.2 L121.1,193.2 L123.6,194.0 L125.2,176.0 L127.4,175.2 L129.3,185.8 L131.8,189.9 L134.6,203.9 L137.5,192.4 L140.0,190.7 L142.5,199.8 L146.6,191.6 L150.0,182.5 L151.9,181.9 L154.1,180.2 L156.9,179.7 L158.5,168.2 L161.2,169.3 L164.0,169.3 L166.7,174.2 L168.9,179.7 L171.1,181.9 L173.3,195.0 L177.7,211.5 L180.4,210.1 L183.1,199.2 L185.8,182.8 L188.6,185.5 L191.3,178.7 L194.6,180.1 L197.3,185.5 L200.1,191.0 L202.8,195.1 L206.1,196.4 L208.8,207.4 L212.3,216.9 L215.1,222.4 L217.8,234.7 L220.5,251.1 L223.3,264.8 L225.2,268.9 L227.4,259.3 L229.6,245.6 L232.3,234.7 L235.0,229.2 L237.8,219.7 L240.0,202.3 L242.5,196.6 L244.6,204.8 L246.9,194.1 L249.0,201.5 L251.1,195.7 L253.4,192.5 L255.6,190.0 L257.2,196.6 L258.4,189.2 L259.7,180.2 L262.3,177.3 L265.1,184.2 L267.8,177.3 L269.0,172.8 L271.4,183.7 L273.7,173.7 L276.3,198.3 L278.7,200.1 L281.4,192.8 L284.1,191.9 L286.5,186.4 L289.0,174.6 L290.9,176.4 L293.2,169.1 L295.1,161.9 L296.9,159.1 L298.2,165.5 L300.0,178.3 L302.3,183.7 L304.7,192.8 L306.9,198.3 L309.6,205.6 L312.7,211.0 L315.1,200.1 L317.8,183.7 L320.6,182.8 L323.3,181.9 L325.5,181.0 L327.8,168.2 L330.6,167.3 L332.8,169.1 L335.1,166.4 L336.9,171.9 L338.8,178.3 L341.1,181.9 L343.3,183.7 L345.1,194.6 L347.3,196.5 L349.7,191.9 L352.1,203.8 L354.3,207.4 L357.0,198.3 L358.8,201.0 L361.5,198.3 L364.1,207.9 L366.3,209.7 L368.1,198.8 L370.5,189.6 L372.9,186.0 L375.0,187.8 L377.2,187.8 L379.6,186.9 L382.0,183.3 L384.1,182.4 L386.0,187.8 L387.8,198.8 L390.0,189.6 L392.3,185.1 L394.7,181.4 L396.9,183.3 L398.7,181.4 L400.9,171.4 L402.7,160.5 L404.2,153.2 L406.0,164.1 L407.8,179.6 L409.6,182.4 L411.8,187.8 L413.7,178.7 L416.0,173.3 L418.4,176.9 L420.6,184.2 L422.8,175.1 L424.6,171.4 L426.9,176.0 L429.3,182.4 L431.5,189.6 L433.7,200.6 L436.1,204.2 L438.4,206.9 L440.6,200.6 L442.4,188.7 L444.3,178.7 L446.1,159.6 L448.3,161.4 L450.6,169.6 L453.0,173.3 L454.6,170.5 L456.9,168.7 L458.7,169.6 L460.6,193.3 L462.8,193.3 L464.9,186.0 L467.3,178.7 L469.7,175.1 L471.9,171.4 L473.7,169.6 L475.5,178.7 L477.3,177.8 L479.1,186.0 L481.0,195.1 L482.8,211.5 L485.0,189.6 L487.3,191.5 L489.7,206.0 L491.9,196.9 L494.1,193.3 L496.4,187.8 L498.8,180.5 L501.0,189.6 L503.2,200.6 L505.6,199.7 L507.9,200.6 L510.1,196.9 L512.3,187.8 L514.7,189.6 L517.0,186.9 L519.2,179.6 L521.4,189.6 L523.8,186.9 L526.1,189.6 L528.3,198.8 L530.5,207.9 L532.9,213.3 L535.2,217.0 L537.1,222.4 L539.3,213.3 L541.1,206.0 L543.3,195.1 L545.6,189.6 L548.0,186.0 L549.6,178.7 L551.4,174.2 L553.7,177.8 L556.3,181.4 L558.1,187.8 L559.9,195.1 L561.8,207.9 L563.6,217.0 L565.9,215.1 L568.3,213.3 L570.5,209.7 L572.7,202.4 L575.1,195.1 L577.4,191.5 L579.6,186.0 L581.8,182.4 L584.2,181.4 L586.5,180.5 L588.7,178.7 L590.9,180.5 L593.3,179.6 L595.6,180.5 L597.8,182.4 L600.0,176.0 L602.4,167.8 L604.2,161.4 L606.0,156.9 L607.8,155.0 L609.7,172.3 L612.0,162.3 L614.2,161.4 L616.4,164.1 L618.8,170.5 L621.1,171.4 L623.0,184.2 L624.8,191.5 L626.6,189.6 L628.4,198.8 L630.2,213.3 L632.1,207.9 L634.3,206.9 L636.4,207.9 L638.8,211.5 L640.6,184.2 L643.0,176.9 L644.9,176.0 L647.7,187.0 L650.4,195.2 L653.1,195.2 L655.8,192.4 L658.6,207.5 L661.3,208.8 L663.7,205.6 L665.5,199.0 L667.4,192.9 L669.2,184.0 L671.0,174.6 L672.8,165.0 L674.6,156.4 L676.5,146.0 L678.3,136.4 L680.5,124.0 L682.3,114.6 L685.1,120.0 L687.8,128.2 L690.5,126.9 L693.3,129.6 L696.0,128.2 L698.2,132.3 L700.7,144.6 L702.8,137.8 L705.6,129.6 L708.3,126.9 L711.0,128.2 L713.8,137.8 L716.5,139.2 L719.2,148.7 L722.0,150.1 L724.7,148.7 L727.4,140.5 L730.2,132.3 L732.9,126.9 L735.6,131.0 L738.4,143.3 L740.5,164.2 L743.2,176.4 L745.9,190.1 L748.7,198.3 L751.4,212.0 L754.1,210.6 L756.9,203.8 L759.6,202.4 L762.3,203.8 L765.1,199.7 L767.8,187.4 L770.5,176.4 L773.3,173.7 L776.0,175.1 L778.7,177.8 L781.4,175.1 L784.2,188.7 L786.9,202.4 L789.6,207.9 L792.4,209.2 L795.1,214.7 L797.8,224.3 L800.6,217.4 L803.3,202.4 L806.0,198.3 L808.8,191.5 L811.5,196.9 L814.2,187.4 L816.4,179.2 L819.2,184.6 L821.1,195.6 L823.8,196.9 L826.5,212.0 L829.3,231.1 L832.0,231.1 L832.8,240.9 L835.7,247.4 L838.5,244.2 L841.1,242.0 L844.4,243.1 L847.2,236.5 L849.9,227.8 L852.5,220.1 L855.3,217.9 L857.5,211.4 L859.7,203.7 L861.9,191.7 L864.1,196.1 L866.3,203.7 L868.4,214.6 L870.6,224.5 L872.8,234.3 L875.0,242.5 L876.6,244.1 L878.3,252.3 L879.9,257.2 L881.9,260.5 L884.0,255.6 L886.5,252.3 L888.9,250.7 L891.4,248.2 L893.9,245.7 L895.5,235.9 L896.3,231.8 L898.0,234.3 L899.6,239.2 L901.2,242.5 L903.2,244.9 L904.8,241.6 L907.0,239.2 L908.6,237.5 L910.2,236.7 L912.4,235.9 L914.3,234.3 L916.8,231.8 L918.4,229.3 L919.6,222.8 L921.2,219.5 L923.4,220.3 L925.0,222.0 L927.1,221.1 L929.1,222.8 L930.7,224.4 L932.4,211.3 L933.7,203.1 L935.0,196.6 L935.8,196.5 L938.6,202.0 L941.3,185.6 L944.0,177.4 L946.8,181.5 L949.5,188.3 L952.2,182.8 L955.0,169.2 L957.7,177.4 L960.4,193.8 L963.2,185.6 L965.1,169.2 L967.8,169.2 L970.5,177.4 L972.5,178.7 L974.6,199.2 L977.4,200.6 L980.1,204.7 L982.8,212.9 L985.6,222.5 L988.3,230.7 L990.5,232.0 L992.4,215.6 L995.1,202.0 L997.9,192.4 L1000.6,182.8 L1002.5,169.2 L1004.7,155.5 L1006.9,147.3 L1008.8,141.9 L1011.0,132.3 L1013.7,141.9 L1016.2,155.5 L1016.6,156.2 L1018.9,147.3 L1019.2,146.4 L1021.4,149.7 L1023.6,158.4 L1025.7,166.1 L1027.9,160.6 L1030.8,154.0 L1033.6,151.9 L1035.1,167.2 L1036.2,182.5 L1037.3,197.8 L1038.4,210.9 L1040.2,221.8 L1041.7,232.7 L1042.8,241.5 L1043.6,253.1 L1044.9,268.4 L1046.2,283.7 L1047.5,301.2 L1048.8,316.5 L1050.1,329.6 L1051.4,336.2 L1052.7,342.7 L1054.0,338.4 L1055.8,331.8 L1057.1,336.2 L1058.4,337.3 L1060.2,334.0 L1061.7,330.7 L1063.9,329.6 L1066.1,327.4 L1068.3,323.1 L1069.8,318.7 L1071.5,316.5 L1073.3,312.1 L1074.8,303.4 L1077.0,299.0 L1080.3,292.5 L1082.5,295.7 L1084.6,299.0 L1087.3,299.0 L1090.1,300.1 L1092.3,305.6 L1093.8,314.3 L1095.6,320.9 L1097.8,323.1 L1099.0,326.1 L1101.0,327.1 L1103.0,332.1 L1105.0,342.1 L1107.0,350.1 L1109.0,358.1 L1111.0,365.2 L1113.0,369.2 L1115.0,371.2 L1117.0,369.2 L1119.0,367.2 L1121.1,366.2 L1123.1,365.2 L1125.1,364.1 L1127.1,362.1 L1129.1,361.1 L1131.1,358.1 L1133.1,350.1 L1134.7,340.1 L1136.1,326.1 L1138.1,325.1 L1140.1,321.1 L1142.1,319.1 L1144.1,318.1 L1146.1,315.1 L1148.1,314.0 L1150.1,320.1 L1151.5,330.1 L1152.7,342.1 L1153.5,354.1 L1155.1,350.1 L1158.1,349.1 L1161.1,349.1 L1164.1,350.1 L1166.1,352.1 L1168.1,354.1 L1170.2,354.1 L1172.2,358.1 L1174.0,362.1 L1176.0,364.1 L1178.0,364.1 L1180.0,366.2 L1182.0,366.2 L1184.0,368.2 L1186.0,370.2 L1188.0,376.2 L1190.0,381.2 L1192.0,387.2 L1194.0,388.2 L1196.1,389.2 L1198.1,389.2 L1200.1,390.2 L1201.7,388.2 L1203.1,382.2 L1204.5,374.2 L1206.1,366.2 L1208.1,358.1 L1210.1,354.1 L1212.1,352.1 L1214.1,351.1 L1216.1,351.1 L1218.1,349.1 L1220.1,344.1 L1222.1,342.1 L1224.1,340.1 L1226.1,339.1 L1227.7,337.1 L1229.1,330.1 L1231.1,322.1 L1233.1,318.1 L1234.5,317.1 L1236.1,321.1 L1238.1,325.1 L1240.1,326.1 L1242.1,332.1 L1244.1,333.1 L1246.2,334.1 L1248.2,332.1 L1249.0,331.1 L1251.0,333.1 L1253.0,334.1 L1255.0,328.1 L1257.0,316.1 L1258.6,306.1 L1260.6,300.0 L1262.6,299.0 L1264.6,302.0 L1266.6,297.0 L1268.6,294.0 L1270.7,291.0 L1272.1,296.0 L1273.5,303.0 L1275.1,304.0 L1277.1,306.1 L1278.7,316.1 L1280.7,323.1 L1282.7,322.1 L1284.7,321.1 L1286.7,324.1 L1288.7,320.1 L1290.7,314.1 L1292.7,309.1 L1294.7,305.1 L1296.7,304.0 L1298.7,308.1 L1300.7,313.1 L1302.7,316.1 L1304.7,319.1 L1306.7,322.1 L1308.7,326.1 L1310.1,336.1 L1312.1,346.1 L1314.1,350.1 L1316.1,352.1 L1318.1,354.1 L1320.2,360.2 L1322.2,366.2 L1324.0,368.2 L1325.6,371.2 L1327.6,364.2 L1329.0,354.2 L1331.0,350.2 L1333.0,348.2 L1335.0,349.2 L1337.0,351.2 L1339.0,350.2 L1341.0,347.2 L1343.0,345.2 L1345.1,350.2 L1347.1,354.2 L1349.1,352.2 L1351.1,346.2 L1353.1,338.1 L1355.1,336.1 L1357.1,337.1 L1359.1,332.1 L1361.1,319.1 L1363.1,321.1 L1365.1,323.1 L1367.1,322.1 L1369.1,315.1 L1371.1,304.1 L1373.1,292.0 L1375.1,289.0 L1377.1,291.0 L1379.1,288.0 L1381.1,284.0 L1383.1,285.0 L1385.1,290.0 L1387.1,296.1 L1389.1,302.1 L1391.1,309.1 L1393.1,313.1 L1395.2,314.1 L1397.2,315.1 L1399.0,313.1 L1401.0,302.1 L1403.0,296.1 L1405.0,292.0 L1407.0,293.0 L1409.0,291.0 L1411.0,293.0 L1413.0,297.1 L1415.0,295.1 L1417.0,295.1 L1419.0,305.1 L1421.1,307.1 L1423.1,310.1 L1425.1,313.1 L1427.1,307.1 L1429.1,303.1 L1431.1,298.1 L1432.7,306.1 L1434.7,319.1 L1436.7,310.1 L1438.7,303.1 L1440.7,302.1 L1443.1,303.1 L1445.1,302.1 L1447.1,303.1 L1449.1,302.1 L1451.1,301.1 L1453.1,300.1 L1454.7,312.1 L1457.1,312.1 L1459.1,311.1 L1461.1,318.1 L1463.1,323.1 L1465.1,324.1 L1467.1,323.1 L1469.1,323.1 L1471.2,313.1 L1473.2,313.1 L1474.0,315.1 L1476.0,314.1 L1478.0,311.1 L1480.0,308.1 L1482.0,312.1 L1484.0,315.1 L1486.0,313.1 L1488.0,315.1 L1490.0,313.1 L1492.0,318.1 L1494.0,312.1 L1496.1,311.1 L1498.1,306.1 L1500.1,301.1 L1502.1,299.1 L1504.1,296.1 L1506.1,295.1 L1508.1,296.1 L1510.1,297.1 L1512.1,296.1 L1514.1,295.1 L1516.1,302.1 L1518.1,301.1 L1520.1,296.1 L1521.1,293.1 L1523.1,303.1 L1525.1,305.1 L1527.1,301.1 L1528.5,298.1 L1530.1,301.1 L1532.1,306.1 L1534.1,314.1 L1536.1,322.1 L1538.1,330.1 L1540.1,328.1 L1542.1,324.1 L1544.1,323.1 L1546.2,328.1 L1548.2,323.1 L1549.0,318.1 L1551.0,313.1 L1553.0,309.1 L1555.0,306.1 L1557.0,302.1 L1559.0,304.1 L1561.0,308.1 L1563.0,313.1 L1565.0,320.1 L1567.0,322.1 L1569.0,326.1 L1571.1,318.1 L1573.1,316.1 L1575.1,316.1 L1577.1,315.1 L1579.1,314.1 L1581.1,309.1 L1583.1,306.1 L1585.1,307.1 L1587.1,313.1 L1589.1,320.1 L1591.1,328.1 L1593.1,327.1 L1595.1,329.1 L1597.1,330.1 L1599.1,326.1 L1601.1,314.1 L1603.1,306.1 L1605.1,301.1 L1607.1,306.1 L1609.1,305.1 L1611.1,299.1 L1613.1,295.1 L1615.1,294.1 L1617.1,302.1 L1619.1,310.1 L1621.2,313.1 L1623.2,318.1 L1624.0,316.1 L1626.0,308.1 L1628.0,307.1 L1630.0,308.1 L1632.0,307.1 L1634.0,305.1 L1636.0,299.1 L1638.0,298.1 L1640.0,296.1 L1642.0,299.1 L1644.0,298.1 L1646.1,292.1 L1648.1,290.1 L1650.1,290.1 L1652.1,290.1 L1654.1,290.1 L1656.1,291.1 L1658.1,297.1 L1660.1,295.1 L1662.1,299.1 L1664.1,293.1 L1666.1,291.1 L1668.1,296.1 L1670.1,301.1 L1672.1,304.1 L1674.1,292.1 L1676.1,286.1 L1678.1,285.1 L1680.1,288.1 L1682.1,292.1 L1684.1,295.1 L1686.1,290.1 L1688.1,285.1 L1690.1,288.1 L1692.1,299.1 L1694.1,298.1 L1696.2,297.1 L1698.2,296.1 L1699.0,296.1 L1701.0,293.1 L1703.0,292.1 L1705.0,294.1 L1707.0,295.1 L1709.0,291.1 L1711.0,294.1 L1713.0,300.1 L1715.0,305.1 L1717.0,315.1 L1719.0,314.1 L1721.1,314.1 L1723.1,309.1 L1725.1,300.1 L1727.1,299.1 L1729.1,298.1 L1731.1,297.1 L1733.1,294.1 L1735.1,289.1 L1737.1,287.1 L1739.1,288.1 L1741.1,296.1 L1743.1,296.1 L1745.1,296.1 L1747.1,295.1 L1749.1,291.1 L1751.1,288.1 L1753.1,289.1 L1755.1,292.1 L1757.1,287.1 L1759.1,287.1 L1761.1,291.1 L1763.1,293.1 L1765.1,294.1 L1767.1,302.1 L1769.1,307.1 L1771.2,314.1 L1773.2,319.1 L1774.0,319.1 L1776.0,320.1 L1778.0,321.1 L1780.0,320.1 L1782.0,316.1 L1784.0,312.1 L1786.0,306.1 L1788.0,298.1 L1790.0,290.1 L1792.0,283.1 L1794.0,284.1 L1796.1,285.1 L1798.1,283.1 L1800.1,286.1 L1802.1,289.1 L1804.1,290.1 L1806.1,298.1 L1808.1,308.1 L1810.1,316.1 L1812.1,319.1 L1814.1,320.1 L1816.1,316.1 L1818.1,313.1 L1820.1,313.1 L1822.1,308.1 L1824.1,303.1 L1826.1,307.1 L1828.1,300.1 L1830.1,299.1 L1832.1,303.1 L1834.1,296.1 L1836.1,295.1 L1838.1,292.1 L1840.1,291.1 L1842.1,288.1 L1844.1,280.1 L1846.2,272.0 L1848.2,269.0 L1849.8,268.0 L1851.2,282.1 L1853.2,290.1 L1855.4,292.1 L1855.7,292.1 L1855.7,462.0 Z" fill="#EAB839" fill-opacity="0.1" stroke="none"/><polyline points="92.1,174.3 93.0,174.3 95.7,179.3 98.2,167.8 100.7,171.1 103.1,162.0 105.6,163.7 108.0,182.5 110.5,194.8 113.0,180.9 116.2,173.5 118.2,174.3 119.5,184.2 121.1,193.2 123.6,194.0 125.2,176.0 127.4,175.2 129.3,185.8 131.8,189.9 134.6,203.9 137.5,192.4 140.0,190.7 142.5,199.8 146.6,191.6 150.0,182.5 151.9,181.9 154.1,180.2 156.9,179.7 158.5,168.2 161.2,169.3 164.0,169.3 166.7,174.2 168.9,179.7 171.1,181.9 173.3,195.0 177.7,211.5 180.4,210.1 183.1,199.2 185.8,182.8 188.6,185.5 191.3,178.7 194.6,180.1 197.3,185.5 200.1,191.0 202.8,195.1 206.1,196.4 208.8,207.4 212.3,216.9 215.1,222.4 217.8,234.7 220.5,251.1 223.3,264.8 225.2,268.9 227.4,259.3 229.6,245.6 232.3,234.7 235.0,229.2 237.8,219.7 240.0,202.3 242.5,196.6 244.6,204.8 246.9,194.1 249.0,201.5 251.1,195.7 253.4,192.5 255.6,190.0 257.2,196.6 258.4,189.2 259.7,180.2 262.3,177.3 265.1,184.2 267.8,177.3 269.0,172.8 271.4,183.7 273.7,173.7 276.3,198.3 278.7,200.1 281.4,192.8 284.1,191.9 286.5,186.4 289.0,174.6 290.9,176.4 293.2,169.1 295.1,161.9 296.9,159.1 298.2,165.5 300.0,178.3 302.3,183.7 304.7,192.8 306.9,198.3 309.6,205.6 312.7,211.0 315.1,200.1 317.8,183.7 320.6,182.8 323.3,181.9 325.5,181.0 327.8,168.2 330.6,167.3 332.8,169.1 335.1,166.4 336.9,171.9 338.8,178.3 341.1,181.9 343.3,183.7 345.1,194.6 347.3,196.5 349.7,191.9 352.1,203.8 354.3,207.4 357.0,198.3 358.8,201.0 361.5,198.3 364.1,207.9 366.3,209.7 368.1,198.8 370.5,189.6 372.9,186.0 375.0,187.8 377.2,187.8 379.6,186.9 382.0,183.3 384.1,182.4 386.0,187.8 387.8,198.8 390.0,189.6 392.3,185.1 394.7,181.4 396.9,183.3 398.7,181.4 400.9,171.4 402.7,160.5 404.2,153.2 406.0,164.1 407.8,179.6 409.6,182.4 411.8,187.8 413.7,178.7 416.0,173.3 418.4,176.9 420.6,184.2 422.8,175.1 424.6,171.4 426.9,176.0 429.3,182.4 431.5,189.6 433.7,200.6 436.1,204.2 438.4,206.9 440.6,200.6 442.4,188.7 444.3,178.7 446.1,159.6 448.3,161.4 450.6,169.6 453.0,173.3 454.6,170.5 456.9,168.7 458.7,169.6 460.6,193.3 462.8,193.3 464.9,186.0 467.3,178.7 469.7,175.1 471.9,171.4 473.7,169.6 475.5,178.7 477.3,177.8 479.1,186.0 481.0,195.1 482.8,211.5 485.0,189.6 487.3,191.5 489.7,206.0 491.9,196.9 494.1,193.3 496.4,187.8 498.8,180.5 501.0,189.6 503.2,200.6 505.6,199.7 507.9,200.6 510.1,196.9 512.3,187.8 514.7,189.6 517.0,186.9 519.2,179.6 521.4,189.6 523.8,186.9 526.1,189.6 528.3,198.8 530.5,207.9 532.9,213.3 535.2,217.0 537.1,222.4 539.3,213.3 541.1,206.0 543.3,195.1 545.6,189.6 548.0,186.0 549.6,178.7 551.4,174.2 553.7,177.8 556.3,181.4 558.1,187.8 559.9,195.1 561.8,207.9 563.6,217.0 565.9,215.1 568.3,213.3 570.5,209.7 572.7,202.4 575.1,195.1 577.4,191.5 579.6,186.0 581.8,182.4 584.2,181.4 586.5,180.5 588.7,178.7 590.9,180.5 593.3,179.6 595.6,180.5 597.8,182.4 600.0,176.0 602.4,167.8 604.2,161.4 606.0,156.9 607.8,155.0 609.7,172.3 612.0,162.3 614.2,161.4 616.4,164.1 618.8,170.5 621.1,171.4 623.0,184.2 624.8,191.5 626.6,189.6 628.4,198.8 630.2,213.3 632.1,207.9 634.3,206.9 636.4,207.9 638.8,211.5 640.6,184.2 643.0,176.9 644.9,176.0 647.7,187.0 650.4,195.2 653.1,195.2 655.8,192.4 658.6,207.5 661.3,208.8 663.7,205.6 665.5,199.0 667.4,192.9 669.2,184.0 671.0,174.6 672.8,165.0 674.6,156.4 676.5,146.0 678.3,136.4 680.5,124.0 682.3,114.6 685.1,120.0 687.8,128.2 690.5,126.9 693.3,129.6 696.0,128.2 698.2,132.3 700.7,144.6 702.8,137.8 705.6,129.6 708.3,126.9 711.0,128.2 713.8,137.8 716.5,139.2 719.2,148.7 722.0,150.1 724.7,148.7 727.4,140.5 730.2,132.3 732.9,126.9 735.6,131.0 738.4,143.3 740.5,164.2 743.2,176.4 745.9,190.1 748.7,198.3 751.4,212.0 754.1,210.6 756.9,203.8 759.6,202.4 762.3,203.8 765.1,199.7 767.8,187.4 770.5,176.4 773.3,173.7 776.0,175.1 778.7,177.8 781.4,175.1 784.2,188.7 786.9,202.4 789.6,207.9 792.4,209.2 795.1,214.7 797.8,224.3 800.6,217.4 803.3,202.4 806.0,198.3 808.8,191.5 811.5,196.9 814.2,187.4 816.4,179.2 819.2,184.6 821.1,195.6 823.8,196.9 826.5,212.0 829.3,231.1 832.0,231.1 832.8,240.9 835.7,247.4 838.5,244.2 841.1,242.0 844.4,243.1 847.2,236.5 849.9,227.8 852.5,220.1 855.3,217.9 857.5,211.4 859.7,203.7 861.9,191.7 864.1,196.1 866.3,203.7 868.4,214.6 870.6,224.5 872.8,234.3 875.0,242.5 876.6,244.1 878.3,252.3 879.9,257.2 881.9,260.5 884.0,255.6 886.5,252.3 888.9,250.7 891.4,248.2 893.9,245.7 895.5,235.9 896.3,231.8 898.0,234.3 899.6,239.2 901.2,242.5 903.2,244.9 904.8,241.6 907.0,239.2 908.6,237.5 910.2,236.7 912.4,235.9 914.3,234.3 916.8,231.8 918.4,229.3 919.6,222.8 921.2,219.5 923.4,220.3 925.0,222.0 927.1,221.1 929.1,222.8 930.7,224.4 932.4,211.3 933.7,203.1 935.0,196.6 935.8,196.5 938.6,202.0 941.3,185.6 944.0,177.4 946.8,181.5 949.5,188.3 952.2,182.8 955.0,169.2 957.7,177.4 960.4,193.8 963.2,185.6 965.1,169.2 967.8,169.2 970.5,177.4 972.5,178.7 974.6,199.2 977.4,200.6 980.1,204.7 982.8,212.9 985.6,222.5 988.3,230.7 990.5,232.0 992.4,215.6 995.1,202.0 997.9,192.4 1000.6,182.8 1002.5,169.2 1004.7,155.5 1006.9,147.3 1008.8,141.9 1011.0,132.3 1013.7,141.9 1016.2,155.5 1016.6,156.2 1018.9,147.3 1019.2,146.4 1021.4,149.7 1023.6,158.4 1025.7,166.1 1027.9,160.6 1030.8,154.0 1033.6,151.9 1035.1,167.2 1036.2,182.5 1037.3,197.8 1038.4,210.9 1040.2,221.8 1041.7,232.7 1042.8,241.5 1043.6,253.1 1044.9,268.4 1046.2,283.7 1047.5,301.2 1048.8,316.5 1050.1,329.6 1051.4,336.2 1052.7,342.7 1054.0,338.4 1055.8,331.8 1057.1,336.2 1058.4,337.3 1060.2,334.0 1061.7,330.7 1063.9,329.6 1066.1,327.4 1068.3,323.1 1069.8,318.7 1071.5,316.5 1073.3,312.1 1074.8,303.4 1077.0,299.0 1080.3,292.5 1082.5,295.7 1084.6,299.0 1087.3,299.0 1090.1,300.1 1092.3,305.6 1093.8,314.3 1095.6,320.9 1097.8,323.1 1099.0,326.1 1101.0,327.1 1103.0,332.1 1105.0,342.1 1107.0,350.1 1109.0,358.1 1111.0,365.2 1113.0,369.2 1115.0,371.2 1117.0,369.2 1119.0,367.2 1121.1,366.2 1123.1,365.2 1125.1,364.1 1127.1,362.1 1129.1,361.1 1131.1,358.1 1133.1,350.1 1134.7,340.1 1136.1,326.1 1138.1,325.1 1140.1,321.1 1142.1,319.1 1144.1,318.1 1146.1,315.1 1148.1,314.0 1150.1,320.1 1151.5,330.1 1152.7,342.1 1153.5,354.1 1155.1,350.1 1158.1,349.1 1161.1,349.1 1164.1,350.1 1166.1,352.1 1168.1,354.1 1170.2,354.1 1172.2,358.1 1174.0,362.1 1176.0,364.1 1178.0,364.1 1180.0,366.2 1182.0,366.2 1184.0,368.2 1186.0,370.2 1188.0,376.2 1190.0,381.2 1192.0,387.2 1194.0,388.2 1196.1,389.2 1198.1,389.2 1200.1,390.2 1201.7,388.2 1203.1,382.2 1204.5,374.2 1206.1,366.2 1208.1,358.1 1210.1,354.1 1212.1,352.1 1214.1,351.1 1216.1,351.1 1218.1,349.1 1220.1,344.1 1222.1,342.1 1224.1,340.1 1226.1,339.1 1227.7,337.1 1229.1,330.1 1231.1,322.1 1233.1,318.1 1234.5,317.1 1236.1,321.1 1238.1,325.1 1240.1,326.1 1242.1,332.1 1244.1,333.1 1246.2,334.1 1248.2,332.1 1249.0,331.1 1251.0,333.1 1253.0,334.1 1255.0,328.1 1257.0,316.1 1258.6,306.1 1260.6,300.0 1262.6,299.0 1264.6,302.0 1266.6,297.0 1268.6,294.0 1270.7,291.0 1272.1,296.0 1273.5,303.0 1275.1,304.0 1277.1,306.1 1278.7,316.1 1280.7,323.1 1282.7,322.1 1284.7,321.1 1286.7,324.1 1288.7,320.1 1290.7,314.1 1292.7,309.1 1294.7,305.1 1296.7,304.0 1298.7,308.1 1300.7,313.1 1302.7,316.1 1304.7,319.1 1306.7,322.1 1308.7,326.1 1310.1,336.1 1312.1,346.1 1314.1,350.1 1316.1,352.1 1318.1,354.1 1320.2,360.2 1322.2,366.2 1324.0,368.2 1325.6,371.2 1327.6,364.2 1329.0,354.2 1331.0,350.2 1333.0,348.2 1335.0,349.2 1337.0,351.2 1339.0,350.2 1341.0,347.2 1343.0,345.2 1345.1,350.2 1347.1,354.2 1349.1,352.2 1351.1,346.2 1353.1,338.1 1355.1,336.1 1357.1,337.1 1359.1,332.1 1361.1,319.1 1363.1,321.1 1365.1,323.1 1367.1,322.1 1369.1,315.1 1371.1,304.1 1373.1,292.0 1375.1,289.0 1377.1,291.0 1379.1,288.0 1381.1,284.0 1383.1,285.0 1385.1,290.0 1387.1,296.1 1389.1,302.1 1391.1,309.1 1393.1,313.1 1395.2,314.1 1397.2,315.1 1399.0,313.1 1401.0,302.1 1403.0,296.1 1405.0,292.0 1407.0,293.0 1409.0,291.0 1411.0,293.0 1413.0,297.1 1415.0,295.1 1417.0,295.1 1419.0,305.1 1421.1,307.1 1423.1,310.1 1425.1,313.1 1427.1,307.1 1429.1,303.1 1431.1,298.1 1432.7,306.1 1434.7,319.1 1436.7,310.1 1438.7,303.1 1440.7,302.1 1443.1,303.1 1445.1,302.1 1447.1,303.1 1449.1,302.1 1451.1,301.1 1453.1,300.1 1454.7,312.1 1457.1,312.1 1459.1,311.1 1461.1,318.1 1463.1,323.1 1465.1,324.1 1467.1,323.1 1469.1,323.1 1471.2,313.1 1473.2,313.1 1474.0,315.1 1476.0,314.1 1478.0,311.1 1480.0,308.1 1482.0,312.1 1484.0,315.1 1486.0,313.1 1488.0,315.1 1490.0,313.1 1492.0,318.1 1494.0,312.1 1496.1,311.1 1498.1,306.1 1500.1,301.1 1502.1,299.1 1504.1,296.1 1506.1,295.1 1508.1,296.1 1510.1,297.1 1512.1,296.1 1514.1,295.1 1516.1,302.1 1518.1,301.1 1520.1,296.1 1521.1,293.1 1523.1,303.1 1525.1,305.1 1527.1,301.1 1528.5,298.1 1530.1,301.1 1532.1,306.1 1534.1,314.1 1536.1,322.1 1538.1,330.1 1540.1,328.1 1542.1,324.1 1544.1,323.1 1546.2,328.1 1548.2,323.1 1549.0,318.1 1551.0,313.1 1553.0,309.1 1555.0,306.1 1557.0,302.1 1559.0,304.1 1561.0,308.1 1563.0,313.1 1565.0,320.1 1567.0,322.1 1569.0,326.1 1571.1,318.1 1573.1,316.1 1575.1,316.1 1577.1,315.1 1579.1,314.1 1581.1,309.1 1583.1,306.1 1585.1,307.1 1587.1,313.1 1589.1,320.1 1591.1,328.1 1593.1,327.1 1595.1,329.1 1597.1,330.1 1599.1,326.1 1601.1,314.1 1603.1,306.1 1605.1,301.1 1607.1,306.1 1609.1,305.1 1611.1,299.1 1613.1,295.1 1615.1,294.1 1617.1,302.1 1619.1,310.1 1621.2,313.1 1623.2,318.1 1624.0,316.1 1626.0,308.1 1628.0,307.1 1630.0,308.1 1632.0,307.1 1634.0,305.1 1636.0,299.1 1638.0,298.1 1640.0,296.1 1642.0,299.1 1644.0,298.1 1646.1,292.1 1648.1,290.1 1650.1,290.1 1652.1,290.1 1654.1,290.1 1656.1,291.1 1658.1,297.1 1660.1,295.1 1662.1,299.1 1664.1,293.1 1666.1,291.1 1668.1,296.1 1670.1,301.1 1672.1,304.1 1674.1,292.1 1676.1,286.1 1678.1,285.1 1680.1,288.1 1682.1,292.1 1684.1,295.1 1686.1,290.1 1688.1,285.1 1690.1,288.1 1692.1,299.1 1694.1,298.1 1696.2,297.1 1698.2,296.1 1699.0,296.1 1701.0,293.1 1703.0,292.1 1705.0,294.1 1707.0,295.1 1709.0,291.1 1711.0,294.1 1713.0,300.1 1715.0,305.1 1717.0,315.1 1719.0,314.1 1721.1,314.1 1723.1,309.1 1725.1,300.1 1727.1,299.1 1729.1,298.1 1731.1,297.1 1733.1,294.1 1735.1,289.1 1737.1,287.1 1739.1,288.1 1741.1,296.1 1743.1,296.1 1745.1,296.1 1747.1,295.1 1749.1,291.1 1751.1,288.1 1753.1,289.1 1755.1,292.1 1757.1,287.1 1759.1,287.1 1761.1,291.1 1763.1,293.1 1765.1,294.1 1767.1,302.1 1769.1,307.1 1771.2,314.1 1773.2,319.1 1774.0,319.1 1776.0,320.1 1778.0,321.1 1780.0,320.1 1782.0,316.1 1784.0,312.1 1786.0,306.1 1788.0,298.1 1790.0,290.1 1792.0,283.1 1794.0,284.1 1796.1,285.1 1798.1,283.1 1800.1,286.1 1802.1,289.1 1804.1,290.1 1806.1,298.1 1808.1,308.1 1810.1,316.1 1812.1,319.1 1814.1,320.1 1816.1,316.1 1818.1,313.1 1820.1,313.1 1822.1,308.1 1824.1,303.1 1826.1,307.1 1828.1,300.1 1830.1,299.1 1832.1,303.1 1834.1,296.1 1836.1,295.1 1838.1,292.1 1840.1,291.1 1842.1,288.1 1844.1,280.1 1846.2,272.0 1848.2,269.0 1849.8,268.0 1851.2,282.1 1853.2,290.1 1855.4,292.1 1855.7,292.1" fill="none" stroke="#EAB839" stroke-opacity="0.35" stroke-width="2.7" stroke-linejoin="round"/><polyline points="92.1,174.3 93.0,174.3 95.7,179.3 98.2,167.8 100.7,171.1 103.1,162.0 105.6,163.7 108.0,182.5 110.5,194.8 113.0,180.9 116.2,173.5 118.2,174.3 119.5,184.2 121.1,193.2 123.6,194.0 125.2,176.0 127.4,175.2 129.3,185.8 131.8,189.9 134.6,203.9 137.5,192.4 140.0,190.7 142.5,199.8 146.6,191.6 150.0,182.5 151.9,181.9 154.1,180.2 156.9,179.7 158.5,168.2 161.2,169.3 164.0,169.3 166.7,174.2 168.9,179.7 171.1,181.9 173.3,195.0 177.7,211.5 180.4,210.1 183.1,199.2 185.8,182.8 188.6,185.5 191.3,178.7 194.6,180.1 197.3,185.5 200.1,191.0 202.8,195.1 206.1,196.4 208.8,207.4 212.3,216.9 215.1,222.4 217.8,234.7 220.5,251.1 223.3,264.8 225.2,268.9 227.4,259.3 229.6,245.6 232.3,234.7 235.0,229.2 237.8,219.7 240.0,202.3 242.5,196.6 244.6,204.8 246.9,194.1 249.0,201.5 251.1,195.7 253.4,192.5 255.6,190.0 257.2,196.6 258.4,189.2 259.7,180.2 262.3,177.3 265.1,184.2 267.8,177.3 269.0,172.8 271.4,183.7 273.7,173.7 276.3,198.3 278.7,200.1 281.4,192.8 284.1,191.9 286.5,186.4 289.0,174.6 290.9,176.4 293.2,169.1 295.1,161.9 296.9,159.1 298.2,165.5 300.0,178.3 302.3,183.7 304.7,192.8 306.9,198.3 309.6,205.6 312.7,211.0 315.1,200.1 317.8,183.7 320.6,182.8 323.3,181.9 325.5,181.0 327.8,168.2 330.6,167.3 332.8,169.1 335.1,166.4 336.9,171.9 338.8,178.3 341.1,181.9 343.3,183.7 345.1,194.6 347.3,196.5 349.7,191.9 352.1,203.8 354.3,207.4 357.0,198.3 358.8,201.0 361.5,198.3 364.1,207.9 366.3,209.7 368.1,198.8 370.5,189.6 372.9,186.0 375.0,187.8 377.2,187.8 379.6,186.9 382.0,183.3 384.1,182.4 386.0,187.8 387.8,198.8 390.0,189.6 392.3,185.1 394.7,181.4 396.9,183.3 398.7,181.4 400.9,171.4 402.7,160.5 404.2,153.2 406.0,164.1 407.8,179.6 409.6,182.4 411.8,187.8 413.7,178.7 416.0,173.3 418.4,176.9 420.6,184.2 422.8,175.1 424.6,171.4 426.9,176.0 429.3,182.4 431.5,189.6 433.7,200.6 436.1,204.2 438.4,206.9 440.6,200.6 442.4,188.7 444.3,178.7 446.1,159.6 448.3,161.4 450.6,169.6 453.0,173.3 454.6,170.5 456.9,168.7 458.7,169.6 460.6,193.3 462.8,193.3 464.9,186.0 467.3,178.7 469.7,175.1 471.9,171.4 473.7,169.6 475.5,178.7 477.3,177.8 479.1,186.0 481.0,195.1 482.8,211.5 485.0,189.6 487.3,191.5 489.7,206.0 491.9,196.9 494.1,193.3 496.4,187.8 498.8,180.5 501.0,189.6 503.2,200.6 505.6,199.7 507.9,200.6 510.1,196.9 512.3,187.8 514.7,189.6 517.0,186.9 519.2,179.6 521.4,189.6 523.8,186.9 526.1,189.6 528.3,198.8 530.5,207.9 532.9,213.3 535.2,217.0 537.1,222.4 539.3,213.3 541.1,206.0 543.3,195.1 545.6,189.6 548.0,186.0 549.6,178.7 551.4,174.2 553.7,177.8 556.3,181.4 558.1,187.8 559.9,195.1 561.8,207.9 563.6,217.0 565.9,215.1 568.3,213.3 570.5,209.7 572.7,202.4 575.1,195.1 577.4,191.5 579.6,186.0 581.8,182.4 584.2,181.4 586.5,180.5 588.7,178.7 590.9,180.5 593.3,179.6 595.6,180.5 597.8,182.4 600.0,176.0 602.4,167.8 604.2,161.4 606.0,156.9 607.8,155.0 609.7,172.3 612.0,162.3 614.2,161.4 616.4,164.1 618.8,170.5 621.1,171.4 623.0,184.2 624.8,191.5 626.6,189.6 628.4,198.8 630.2,213.3 632.1,207.9 634.3,206.9 636.4,207.9 638.8,211.5 640.6,184.2 643.0,176.9 644.9,176.0 647.7,187.0 650.4,195.2 653.1,195.2 655.8,192.4 658.6,207.5 661.3,208.8 663.7,205.6 665.5,199.0 667.4,192.9 669.2,184.0 671.0,174.6 672.8,165.0 674.6,156.4 676.5,146.0 678.3,136.4 680.5,124.0 682.3,114.6 685.1,120.0 687.8,128.2 690.5,126.9 693.3,129.6 696.0,128.2 698.2,132.3 700.7,144.6 702.8,137.8 705.6,129.6 708.3,126.9 711.0,128.2 713.8,137.8 716.5,139.2 719.2,148.7 722.0,150.1 724.7,148.7 727.4,140.5 730.2,132.3 732.9,126.9 735.6,131.0 738.4,143.3 740.5,164.2 743.2,176.4 745.9,190.1 748.7,198.3 751.4,212.0 754.1,210.6 756.9,203.8 759.6,202.4 762.3,203.8 765.1,199.7 767.8,187.4 770.5,176.4 773.3,173.7 776.0,175.1 778.7,177.8 781.4,175.1 784.2,188.7 786.9,202.4 789.6,207.9 792.4,209.2 795.1,214.7 797.8,224.3 800.6,217.4 803.3,202.4 806.0,198.3 808.8,191.5 811.5,196.9 814.2,187.4 816.4,179.2 819.2,184.6 821.1,195.6 823.8,196.9 826.5,212.0 829.3,231.1 832.0,231.1 832.8,240.9 835.7,247.4 838.5,244.2 841.1,242.0 844.4,243.1 847.2,236.5 849.9,227.8 852.5,220.1 855.3,217.9 857.5,211.4 859.7,203.7 861.9,191.7 864.1,196.1 866.3,203.7 868.4,214.6 870.6,224.5 872.8,234.3 875.0,242.5 876.6,244.1 878.3,252.3 879.9,257.2 881.9,260.5 884.0,255.6 886.5,252.3 888.9,250.7 891.4,248.2 893.9,245.7 895.5,235.9 896.3,231.8 898.0,234.3 899.6,239.2 901.2,242.5 903.2,244.9 904.8,241.6 907.0,239.2 908.6,237.5 910.2,236.7 912.4,235.9 914.3,234.3 916.8,231.8 918.4,229.3 919.6,222.8 921.2,219.5 923.4,220.3 925.0,222.0 927.1,221.1 929.1,222.8 930.7,224.4 932.4,211.3 933.7,203.1 935.0,196.6 935.8,196.5 938.6,202.0 941.3,185.6 944.0,177.4 946.8,181.5 949.5,188.3 952.2,182.8 955.0,169.2 957.7,177.4 960.4,193.8 963.2,185.6 965.1,169.2 967.8,169.2 970.5,177.4 972.5,178.7 974.6,199.2 977.4,200.6 980.1,204.7 982.8,212.9 985.6,222.5 988.3,230.7 990.5,232.0 992.4,215.6 995.1,202.0 997.9,192.4 1000.6,182.8 1002.5,169.2 1004.7,155.5 1006.9,147.3 1008.8,141.9 1011.0,132.3 1013.7,141.9 1016.2,155.5 1016.6,156.2 1018.9,147.3 1019.2,146.4 1021.4,149.7 1023.6,158.4 1025.7,166.1 1027.9,160.6 1030.8,154.0 1033.6,151.9 1035.1,167.2 1036.2,182.5 1037.3,197.8 1038.4,210.9 1040.2,221.8 1041.7,232.7 1042.8,241.5 1043.6,253.1 1044.9,268.4 1046.2,283.7 1047.5,301.2 1048.8,316.5 1050.1,329.6 1051.4,336.2 1052.7,342.7 1054.0,338.4 1055.8,331.8 1057.1,336.2 1058.4,337.3 1060.2,334.0 1061.7,330.7 1063.9,329.6 1066.1,327.4 1068.3,323.1 1069.8,318.7 1071.5,316.5 1073.3,312.1 1074.8,303.4 1077.0,299.0 1080.3,292.5 1082.5,295.7 1084.6,299.0 1087.3,299.0 1090.1,300.1 1092.3,305.6 1093.8,314.3 1095.6,320.9 1097.8,323.1 1099.0,326.1 1101.0,327.1 1103.0,332.1 1105.0,342.1 1107.0,350.1 1109.0,358.1 1111.0,365.2 1113.0,369.2 1115.0,371.2 1117.0,369.2 1119.0,367.2 1121.1,366.2 1123.1,365.2 1125.1,364.1 1127.1,362.1 1129.1,361.1 1131.1,358.1 1133.1,350.1 1134.7,340.1 1136.1,326.1 1138.1,325.1 1140.1,321.1 1142.1,319.1 1144.1,318.1 1146.1,315.1 1148.1,314.0 1150.1,320.1 1151.5,330.1 1152.7,342.1 1153.5,354.1 1155.1,350.1 1158.1,349.1 1161.1,349.1 1164.1,350.1 1166.1,352.1 1168.1,354.1 1170.2,354.1 1172.2,358.1 1174.0,362.1 1176.0,364.1 1178.0,364.1 1180.0,366.2 1182.0,366.2 1184.0,368.2 1186.0,370.2 1188.0,376.2 1190.0,381.2 1192.0,387.2 1194.0,388.2 1196.1,389.2 1198.1,389.2 1200.1,390.2 1201.7,388.2 1203.1,382.2 1204.5,374.2 1206.1,366.2 1208.1,358.1 1210.1,354.1 1212.1,352.1 1214.1,351.1 1216.1,351.1 1218.1,349.1 1220.1,344.1 1222.1,342.1 1224.1,340.1 1226.1,339.1 1227.7,337.1 1229.1,330.1 1231.1,322.1 1233.1,318.1 1234.5,317.1 1236.1,321.1 1238.1,325.1 1240.1,326.1 1242.1,332.1 1244.1,333.1 1246.2,334.1 1248.2,332.1 1249.0,331.1 1251.0,333.1 1253.0,334.1 1255.0,328.1 1257.0,316.1 1258.6,306.1 1260.6,300.0 1262.6,299.0 1264.6,302.0 1266.6,297.0 1268.6,294.0 1270.7,291.0 1272.1,296.0 1273.5,303.0 1275.1,304.0 1277.1,306.1 1278.7,316.1 1280.7,323.1 1282.7,322.1 1284.7,321.1 1286.7,324.1 1288.7,320.1 1290.7,314.1 1292.7,309.1 1294.7,305.1 1296.7,304.0 1298.7,308.1 1300.7,313.1 1302.7,316.1 1304.7,319.1 1306.7,322.1 1308.7,326.1 1310.1,336.1 1312.1,346.1 1314.1,350.1 1316.1,352.1 1318.1,354.1 1320.2,360.2 1322.2,366.2 1324.0,368.2 1325.6,371.2 1327.6,364.2 1329.0,354.2 1331.0,350.2 1333.0,348.2 1335.0,349.2 1337.0,351.2 1339.0,350.2 1341.0,347.2 1343.0,345.2 1345.1,350.2 1347.1,354.2 1349.1,352.2 1351.1,346.2 1353.1,338.1 1355.1,336.1 1357.1,337.1 1359.1,332.1 1361.1,319.1 1363.1,321.1 1365.1,323.1 1367.1,322.1 1369.1,315.1 1371.1,304.1 1373.1,292.0 1375.1,289.0 1377.1,291.0 1379.1,288.0 1381.1,284.0 1383.1,285.0 1385.1,290.0 1387.1,296.1 1389.1,302.1 1391.1,309.1 1393.1,313.1 1395.2,314.1 1397.2,315.1 1399.0,313.1 1401.0,302.1 1403.0,296.1 1405.0,292.0 1407.0,293.0 1409.0,291.0 1411.0,293.0 1413.0,297.1 1415.0,295.1 1417.0,295.1 1419.0,305.1 1421.1,307.1 1423.1,310.1 1425.1,313.1 1427.1,307.1 1429.1,303.1 1431.1,298.1 1432.7,306.1 1434.7,319.1 1436.7,310.1 1438.7,303.1 1440.7,302.1 1443.1,303.1 1445.1,302.1 1447.1,303.1 1449.1,302.1 1451.1,301.1 1453.1,300.1 1454.7,312.1 1457.1,312.1 1459.1,311.1 1461.1,318.1 1463.1,323.1 1465.1,324.1 1467.1,323.1 1469.1,323.1 1471.2,313.1 1473.2,313.1 1474.0,315.1 1476.0,314.1 1478.0,311.1 1480.0,308.1 1482.0,312.1 1484.0,315.1 1486.0,313.1 1488.0,315.1 1490.0,313.1 1492.0,318.1 1494.0,312.1 1496.1,311.1 1498.1,306.1 1500.1,301.1 1502.1,299.1 1504.1,296.1 1506.1,295.1 1508.1,296.1 1510.1,297.1 1512.1,296.1 1514.1,295.1 1516.1,302.1 1518.1,301.1 1520.1,296.1 1521.1,293.1 1523.1,303.1 1525.1,305.1 1527.1,301.1 1528.5,298.1 1530.1,301.1 1532.1,306.1 1534.1,314.1 1536.1,322.1 1538.1,330.1 1540.1,328.1 1542.1,324.1 1544.1,323.1 1546.2,328.1 1548.2,323.1 1549.0,318.1 1551.0,313.1 1553.0,309.1 1555.0,306.1 1557.0,302.1 1559.0,304.1 1561.0,308.1 1563.0,313.1 1565.0,320.1 1567.0,322.1 1569.0,326.1 1571.1,318.1 1573.1,316.1 1575.1,316.1 1577.1,315.1 1579.1,314.1 1581.1,309.1 1583.1,306.1 1585.1,307.1 1587.1,313.1 1589.1,320.1 1591.1,328.1 1593.1,327.1 1595.1,329.1 1597.1,330.1 1599.1,326.1 1601.1,314.1 1603.1,306.1 1605.1,301.1 1607.1,306.1 1609.1,305.1 1611.1,299.1 1613.1,295.1 1615.1,294.1 1617.1,302.1 1619.1,310.1 1621.2,313.1 1623.2,318.1 1624.0,316.1 1626.0,308.1 1628.0,307.1 1630.0,308.1 1632.0,307.1 1634.0,305.1 1636.0,299.1 1638.0,298.1 1640.0,296.1 1642.0,299.1 1644.0,298.1 1646.1,292.1 1648.1,290.1 1650.1,290.1 1652.1,290.1 1654.1,290.1 1656.1,291.1 1658.1,297.1 1660.1,295.1 1662.1,299.1 1664.1,293.1 1666.1,291.1 1668.1,296.1 1670.1,301.1 1672.1,304.1 1674.1,292.1 1676.1,286.1 1678.1,285.1 1680.1,288.1 1682.1,292.1 1684.1,295.1 1686.1,290.1 1688.1,285.1 1690.1,288.1 1692.1,299.1 1694.1,298.1 1696.2,297.1 1698.2,296.1 1699.0,296.1 1701.0,293.1 1703.0,292.1 1705.0,294.1 1707.0,295.1 1709.0,291.1 1711.0,294.1 1713.0,300.1 1715.0,305.1 1717.0,315.1 1719.0,314.1 1721.1,314.1 1723.1,309.1 1725.1,300.1 1727.1,299.1 1729.1,298.1 1731.1,297.1 1733.1,294.1 1735.1,289.1 1737.1,287.1 1739.1,288.1 1741.1,296.1 1743.1,296.1 1745.1,296.1 1747.1,295.1 1749.1,291.1 1751.1,288.1 1753.1,289.1 1755.1,292.1 1757.1,287.1 1759.1,287.1 1761.1,291.1 1763.1,293.1 1765.1,294.1 1767.1,302.1 1769.1,307.1 1771.2,314.1 1773.2,319.1 1774.0,319.1 1776.0,320.1 1778.0,321.1 1780.0,320.1 1782.0,316.1 1784.0,312.1 1786.0,306.1 1788.0,298.1 1790.0,290.1 1792.0,283.1 1794.0,284.1 1796.1,285.1 1798.1,283.1 1800.1,286.1 1802.1,289.1 1804.1,290.1 1806.1,298.1 1808.1,308.1 1810.1,316.1 1812.1,319.1 1814.1,320.1 1816.1,316.1 1818.1,313.1 1820.1,313.1 1822.1,308.1 1824.1,303.1 1826.1,307.1 1828.1,300.1 1830.1,299.1 1832.1,303.1 1834.1,296.1 1836.1,295.1 1838.1,292.1 1840.1,291.1 1842.1,288.1 1844.1,280.1 1846.2,272.0 1848.2,269.0 1849.8,268.0 1851.2,282.1 1853.2,290.1 1855.4,292.1 1855.7,292.1" fill="none" stroke="#EAB839" stroke-width="1.3" stroke-linejoin="round"/><path d="M92.1,462.0 L92.1,181.7 L93.0,181.7 L95.7,196.5 L98.2,193.2 L100.7,194.8 L103.1,191.6 L105.6,192.4 L108.0,188.3 L113.0,183.9 L117.9,190.7 L121.1,180.1 L122.8,179.3 L125.2,189.1 L128.0,211.2 L131.0,208.8 L134.3,190.7 L137.5,203.9 L141.6,215.3 L145.7,207.1 L150.0,213.7 L151.4,219.6 L154.7,214.6 L156.9,203.7 L159.6,192.8 L162.3,176.4 L164.5,167.7 L166.7,180.2 L168.9,170.9 L171.1,180.2 L173.3,172.6 L174.9,177.3 L177.7,186.9 L180.4,199.2 L183.1,206.0 L185.0,193.7 L187.8,201.9 L190.5,195.1 L192.4,210.1 L195.1,204.6 L197.9,200.5 L200.6,208.7 L203.3,204.6 L206.1,214.2 L208.8,221.0 L211.5,237.4 L214.3,256.6 L217.0,274.3 L219.7,277.0 L222.5,278.4 L225.2,275.7 L227.9,267.5 L230.7,253.8 L233.4,244.3 L236.1,249.7 L238.9,242.9 L241.6,237.4 L244.3,234.7 L247.9,234.7 L250.6,229.2 L253.3,216.9 L256.1,203.3 L258.8,197.8 L261.5,201.9 L264.3,206.0 L267.0,214.2 L269.6,216.5 L271.9,227.4 L274.5,216.5 L276.8,207.4 L279.2,200.1 L281.4,201.9 L283.6,195.6 L285.9,201.9 L287.8,198.3 L290.1,194.6 L292.0,208.3 L293.8,203.8 L296.0,192.8 L298.2,181.9 L300.0,171.9 L301.8,178.3 L303.6,167.3 L305.4,168.2 L307.8,174.6 L309.6,183.7 L311.4,194.6 L313.3,205.6 L315.1,220.1 L316.4,232.9 L318.2,223.8 L320.0,220.1 L322.4,217.4 L324.7,214.7 L326.9,191.0 L329.1,180.1 L331.5,171.0 L333.9,168.2 L336.0,172.8 L338.8,183.7 L341.5,180.1 L343.7,184.6 L346.1,191.0 L348.4,196.5 L350.6,205.6 L352.8,222.0 L355.2,227.4 L357.9,218.3 L360.1,209.2 L362.4,220.1 L364.1,215.1 L366.3,211.5 L368.1,200.6 L369.9,187.8 L371.8,180.5 L373.6,184.2 L375.4,193.3 L377.2,203.3 L379.6,196.9 L382.0,193.3 L384.1,187.8 L386.0,198.8 L387.8,202.4 L390.0,204.2 L392.3,206.9 L394.7,209.7 L396.9,211.5 L398.7,209.7 L400.9,217.0 L402.7,207.9 L405.1,193.3 L407.8,184.2 L410.0,177.8 L411.8,173.3 L413.7,164.1 L415.1,171.4 L417.3,176.0 L419.1,175.1 L420.9,187.8 L423.9,204.2 L426.0,203.3 L428.2,189.6 L430.0,197.8 L431.9,208.8 L434.2,207.9 L436.6,207.9 L438.8,209.7 L441.0,196.0 L443.3,202.4 L445.7,215.1 L447.9,195.1 L450.1,207.9 L452.4,199.7 L454.6,196.9 L456.4,204.2 L458.2,211.5 L460.6,201.5 L462.4,195.1 L464.2,206.0 L466.0,200.6 L467.9,186.0 L470.0,189.6 L472.2,184.2 L474.0,176.0 L475.9,169.6 L477.7,166.0 L479.5,178.7 L481.3,183.3 L483.7,187.8 L486.1,180.5 L488.3,184.2 L490.4,189.6 L492.8,191.5 L495.2,184.2 L497.7,177.8 L500.1,178.7 L502.5,182.4 L504.6,193.3 L506.8,197.8 L508.7,187.8 L511.0,179.6 L512.8,180.5 L514.7,189.6 L517.0,179.6 L519.2,176.9 L521.9,170.5 L524.3,178.7 L526.5,186.9 L528.7,196.9 L531.1,187.8 L533.4,186.0 L535.6,191.5 L537.8,200.6 L540.2,212.4 L542.5,216.1 L544.7,209.7 L546.9,211.5 L549.0,211.5 L551.4,215.1 L553.7,207.9 L555.6,198.8 L557.8,181.4 L559.9,182.4 L561.8,187.8 L563.2,198.8 L565.4,199.7 L567.8,198.8 L570.1,203.3 L572.3,200.6 L574.5,204.2 L576.3,206.0 L578.7,195.1 L580.5,184.2 L583.3,186.0 L585.4,195.1 L587.3,196.9 L589.6,185.1 L592.0,176.0 L594.2,176.9 L596.4,182.4 L598.7,183.3 L600.6,178.7 L602.9,169.6 L605.1,180.5 L607.3,187.8 L609.7,200.6 L612.0,205.1 L614.2,209.7 L616.4,220.6 L618.2,226.1 L619.7,228.8 L621.5,215.1 L623.3,200.6 L625.1,208.8 L627.3,206.0 L629.2,202.4 L631.5,195.1 L633.9,182.4 L635.7,175.1 L637.5,169.6 L639.4,174.2 L641.2,182.4 L643.4,183.3 L645.5,185.6 L648.2,178.8 L650.9,189.7 L653.7,200.6 L656.4,195.2 L659.1,193.8 L661.9,195.2 L664.6,202.0 L667.3,203.4 L670.1,208.8 L672.8,212.9 L675.5,214.3 L678.3,222.5 L680.0,228.2 L682.0,233.9 L684.1,240.5 L685.7,245.4 L687.9,248.7 L689.8,240.5 L691.1,238.0 L692.8,239.7 L694.8,225.7 L696.4,226.6 L697.7,228.2 L699.3,219.2 L701.0,216.7 L702.6,218.4 L704.3,211.0 L705.4,205.2 L706.6,214.3 L707.9,228.2 L709.8,233.9 L712.0,230.7 L714.4,226.6 L716.1,232.3 L717.7,237.2 L719.3,224.1 L721.0,215.9 L723.0,207.7 L724.6,197.9 L726.2,184.8 L727.5,176.6 L728.9,183.1 L730.0,189.7 L732.1,186.4 L734.1,191.3 L736.6,190.5 L738.2,196.2 L740.0,205.2 L740.5,203.8 L743.2,209.2 L745.9,209.2 L748.7,203.8 L751.4,210.6 L754.1,217.4 L756.9,209.2 L759.6,210.6 L761.8,228.4 L764.5,212.0 L767.2,201.0 L770.0,184.6 L772.7,171.0 L775.4,175.1 L776.5,187.4 L778.7,172.3 L780.9,168.3 L783.6,181.9 L786.4,187.4 L789.1,195.6 L791.8,202.4 L794.6,195.6 L797.3,212.0 L800.0,233.8 L802.8,232.5 L805.5,235.2 L808.2,225.6 L811.0,217.4 L813.7,209.2 L816.4,203.8 L819.2,217.4 L821.9,225.6 L824.6,229.7 L827.3,244.8 L830.1,261.1 L831.9,273.7 L832.0,272.1 L834.1,267.1 L836.3,260.5 L838.5,258.4 L840.7,262.7 L843.3,263.8 L845.5,258.4 L848.1,254.0 L849.9,254.0 L852.0,262.7 L854.7,264.9 L856.9,271.5 L859.7,267.1 L861.9,266.0 L864.1,273.7 L866.3,274.8 L868.4,271.5 L870.6,263.8 L872.8,257.3 L875.0,250.7 L876.6,244.1 L878.3,234.3 L879.9,229.3 L881.6,226.9 L883.2,231.0 L884.5,233.4 L885.7,224.4 L886.8,217.0 L888.1,221.1 L889.4,224.4 L890.6,220.3 L891.7,216.2 L893.4,215.4 L894.7,217.0 L896.3,232.6 L898.0,237.5 L899.3,239.2 L900.9,231.0 L902.0,235.9 L903.2,239.2 L904.5,241.6 L906.1,242.5 L907.8,253.9 L909.1,256.4 L910.7,252.3 L912.7,242.5 L914.3,234.3 L916.0,228.5 L918.0,226.1 L919.3,232.6 L920.9,244.1 L922.5,246.6 L924.2,249.8 L925.8,253.1 L927.5,257.2 L929.1,262.1 L930.7,265.4 L932.4,258.9 L935.0,249.0 L935.8,245.7 L938.6,232.0 L941.3,215.6 L944.0,210.2 L946.8,207.4 L949.5,203.3 L952.2,211.5 L955.0,202.0 L957.7,203.3 L960.4,208.8 L963.2,207.4 L965.9,214.3 L968.1,219.7 L969.7,210.2 L972.5,215.6 L975.2,206.1 L977.9,199.2 L980.1,185.6 L983.4,181.5 L985.6,177.4 L988.3,185.6 L991.6,189.7 L995.1,185.6 L997.9,192.4 L999.8,200.6 L1002.5,196.5 L1004.7,180.1 L1006.9,167.8 L1009.6,173.3 L1012.3,181.5 L1015.1,184.2 L1016.1,181.4 L1017.0,180.1 L1017.7,186.8 L1018.9,185.6 L1019.2,195.6 L1021.4,199.9 L1023.6,208.7 L1025.7,205.4 L1027.9,214.2 L1030.8,220.7 L1033.0,217.4 L1035.1,215.2 L1037.3,218.5 L1039.5,221.8 L1042.3,222.9 L1045.4,224.0 L1047.2,217.4 L1048.9,209.8 L1051.1,214.2 L1053.3,212.0 L1054.8,224.0 L1056.3,237.1 L1057.3,253.1 L1059.5,261.9 L1061.0,268.4 L1062.3,277.2 L1063.4,288.1 L1064.5,299.0 L1065.6,309.9 L1066.7,318.7 L1067.8,327.4 L1068.9,334.0 L1070.4,339.5 L1071.5,331.8 L1072.6,326.3 L1074.8,325.2 L1077.0,320.9 L1079.2,318.7 L1081.4,312.1 L1083.6,307.8 L1085.7,306.7 L1087.9,307.8 L1090.1,305.6 L1092.3,303.4 L1093.8,309.9 L1095.6,316.5 L1097.8,317.6 L1099.0,322.1 L1101.0,328.1 L1103.0,336.1 L1105.0,347.1 L1107.0,357.1 L1109.0,364.1 L1111.0,366.2 L1113.0,365.2 L1115.0,368.2 L1117.0,369.2 L1119.0,367.2 L1121.1,364.1 L1123.1,360.1 L1125.1,359.1 L1127.1,360.1 L1129.1,356.1 L1131.1,354.1 L1133.1,349.1 L1135.1,348.1 L1137.1,354.1 L1139.1,359.1 L1141.1,356.1 L1143.1,354.1 L1145.1,360.1 L1147.1,361.1 L1149.1,362.1 L1151.1,361.1 L1153.1,362.1 L1155.1,354.1 L1157.1,353.1 L1159.1,355.1 L1161.1,352.1 L1163.1,348.1 L1165.1,350.1 L1167.1,352.1 L1169.1,351.1 L1170.8,347.1 L1172.8,352.1 L1174.0,354.1 L1176.0,359.1 L1178.0,357.1 L1180.0,358.1 L1182.0,359.7 L1184.0,359.1 L1186.0,360.1 L1188.0,372.2 L1190.0,382.2 L1192.0,384.2 L1194.0,386.2 L1196.1,387.2 L1198.1,387.2 L1200.1,388.2 L1202.1,388.2 L1204.1,380.2 L1206.1,370.2 L1208.1,360.1 L1210.1,354.1 L1212.1,351.1 L1214.1,350.1 L1216.1,347.1 L1218.1,344.1 L1220.1,341.1 L1222.1,346.1 L1224.1,349.1 L1226.1,351.1 L1228.1,347.1 L1230.1,346.1 L1232.1,344.1 L1234.1,338.1 L1235.7,336.1 L1237.1,343.1 L1239.1,341.1 L1241.1,338.1 L1243.1,338.1 L1245.2,337.1 L1247.2,336.1 L1249.0,340.1 L1251.0,341.1 L1253.0,336.1 L1255.0,331.1 L1257.0,330.1 L1259.0,324.1 L1261.0,317.1 L1263.0,313.1 L1265.0,308.1 L1267.0,304.0 L1269.0,304.0 L1271.1,305.1 L1273.1,304.0 L1275.1,304.0 L1277.1,308.1 L1279.1,316.1 L1281.1,322.1 L1283.1,321.1 L1285.1,323.1 L1287.1,320.1 L1289.1,317.1 L1291.1,320.1 L1293.1,320.1 L1295.1,316.1 L1297.1,315.1 L1298.7,316.1 L1300.1,326.1 L1302.1,320.1 L1304.1,326.1 L1306.1,325.1 L1308.1,328.1 L1310.1,338.1 L1312.1,347.1 L1314.1,346.1 L1316.1,346.1 L1318.1,352.1 L1320.2,356.2 L1322.2,357.2 L1324.0,359.2 L1326.0,360.2 L1328.0,357.2 L1330.0,354.2 L1332.0,350.2 L1334.0,346.2 L1336.0,340.1 L1337.6,337.1 L1339.0,345.2 L1341.0,342.1 L1343.0,346.2 L1345.1,347.2 L1347.1,347.2 L1349.1,352.2 L1351.1,358.2 L1353.1,361.2 L1355.1,358.2 L1357.1,351.2 L1359.1,346.2 L1361.1,342.1 L1363.1,344.1 L1365.1,345.2 L1367.1,343.1 L1369.1,338.1 L1371.1,332.1 L1373.1,326.1 L1375.1,322.1 L1377.1,320.1 L1379.1,315.1 L1381.1,306.1 L1383.1,306.1 L1385.1,310.1 L1387.1,314.1 L1389.1,316.1 L1391.1,324.1 L1393.1,326.1 L1395.2,326.1 L1397.2,330.1 L1398.8,338.1 L1400.6,332.1 L1402.6,322.1 L1404.6,310.1 L1406.6,304.1 L1408.6,298.1 L1410.6,300.1 L1412.6,304.1 L1414.6,305.1 L1416.6,306.1 L1418.6,308.1 L1420.7,312.1 L1422.7,310.1 L1424.7,317.1 L1426.1,320.1 L1428.1,315.1 L1430.1,312.1 L1432.1,308.1 L1434.1,303.1 L1436.1,302.1 L1437.5,300.1 L1439.1,312.1 L1441.1,310.1 L1443.1,308.1 L1445.1,305.1 L1447.1,306.1 L1448.7,303.1 L1450.7,310.1 L1452.7,313.1 L1454.7,322.1 L1456.7,312.1 L1458.7,311.1 L1460.7,316.1 L1462.7,315.1 L1464.7,313.1 L1466.7,312.1 L1468.7,322.1 L1470.8,316.1 L1472.8,314.1 L1474.0,316.1 L1476.0,315.1 L1478.0,311.1 L1479.6,308.1 L1481.6,312.1 L1483.6,320.1 L1485.6,317.1 L1487.6,309.1 L1489.6,307.1 L1491.6,306.1 L1493.6,297.1 L1495.7,303.1 L1497.7,308.1 L1499.7,297.1 L1501.7,295.1 L1503.7,294.1 L1505.7,298.1 L1507.7,294.1 L1509.7,301.1 L1511.7,299.1 L1513.7,301.1 L1515.7,307.1 L1517.7,308.1 L1519.7,307.1 L1521.7,308.1 L1523.7,311.1 L1525.7,319.1 L1527.7,321.1 L1529.7,324.1 L1531.7,329.1 L1533.7,334.1 L1535.7,332.1 L1537.7,331.1 L1539.7,322.1 L1541.7,314.1 L1543.7,313.1 L1545.8,312.1 L1547.8,298.1 L1549.0,299.1 L1551.0,298.1 L1553.0,297.1 L1555.0,295.1 L1557.0,293.1 L1559.0,295.1 L1561.0,296.1 L1563.0,298.1 L1565.0,303.1 L1567.0,297.1 L1569.0,296.1 L1571.1,296.1 L1573.1,298.1 L1575.1,301.1 L1577.1,304.1 L1579.1,301.1 L1581.1,302.1 L1583.1,302.1 L1585.1,302.1 L1587.1,303.1 L1589.1,306.1 L1591.1,310.1 L1593.1,307.1 L1595.1,314.1 L1597.1,319.1 L1599.1,312.1 L1601.1,303.1 L1603.1,308.1 L1605.1,304.1 L1607.1,302.1 L1609.1,308.1 L1611.1,318.1 L1613.1,310.1 L1615.1,309.1 L1617.1,308.1 L1619.1,313.1 L1621.2,312.1 L1623.2,303.1 L1624.0,306.1 L1626.0,298.1 L1628.0,292.1 L1630.0,290.1 L1632.0,292.1 L1634.0,295.1 L1636.0,298.1 L1638.0,301.1 L1640.0,297.1 L1642.0,299.1 L1644.0,292.1 L1646.1,287.1 L1648.1,286.1 L1650.1,287.1 L1652.1,287.1 L1654.1,290.1 L1655.7,283.1 L1657.7,295.1 L1659.7,298.1 L1661.7,307.1 L1663.7,315.1 L1665.7,319.1 L1667.7,314.1 L1669.7,307.1 L1671.7,310.1 L1673.7,300.1 L1675.7,293.1 L1677.7,291.1 L1679.7,295.1 L1681.7,296.1 L1683.7,292.1 L1685.7,303.1 L1687.7,299.1 L1689.7,298.1 L1691.7,304.1 L1693.7,305.1 L1695.8,303.1 L1697.8,301.1 L1699.0,296.1 L1701.0,291.1 L1703.0,289.1 L1705.0,285.1 L1707.0,281.1 L1709.0,280.1 L1711.0,283.1 L1713.0,282.1 L1715.0,286.1 L1717.0,296.1 L1719.0,302.1 L1721.1,306.1 L1723.1,312.1 L1725.1,314.1 L1727.1,311.1 L1729.1,309.1 L1731.1,312.1 L1733.1,314.1 L1735.1,310.1 L1737.1,302.1 L1739.1,298.1 L1741.1,297.1 L1743.1,308.1 L1745.1,307.1 L1747.1,302.1 L1749.1,297.1 L1751.1,292.1 L1753.1,294.1 L1755.1,301.1 L1757.1,296.1 L1759.1,292.1 L1761.1,289.1 L1763.1,286.1 L1765.1,281.7 L1767.1,290.1 L1769.1,302.1 L1771.2,308.1 L1773.2,306.1 L1774.0,307.1 L1776.0,312.1 L1778.0,318.1 L1780.0,328.2 L1782.0,332.2 L1784.0,336.2 L1786.0,336.2 L1788.0,333.2 L1790.0,331.2 L1792.0,334.2 L1794.0,327.2 L1796.1,322.1 L1798.1,317.1 L1800.1,314.1 L1802.1,310.1 L1804.1,308.1 L1806.1,308.1 L1808.1,307.1 L1810.1,305.1 L1812.1,310.1 L1814.1,314.1 L1816.1,310.1 L1818.1,306.1 L1820.1,305.1 L1822.1,308.1 L1824.1,309.1 L1826.1,310.1 L1828.1,313.1 L1830.1,314.1 L1832.1,319.1 L1834.1,324.1 L1836.1,318.1 L1838.1,312.1 L1840.1,304.1 L1842.1,300.1 L1844.1,290.1 L1846.2,291.1 L1848.2,290.1 L1850.2,281.1 L1852.2,283.1 L1853.2,292.1 L1855.4,299.1 L1855.7,299.1 L1855.7,462.0 Z" fill="#6ED0E0" fill-opacity="0.1" stroke="none"/><polyline points="92.1,181.7 93.0,181.7 95.7,196.5 98.2,193.2 100.7,194.8 103.1,191.6 105.6,192.4 108.0,188.3 113.0,183.9 117.9,190.7 121.1,180.1 122.8,179.3 125.2,189.1 128.0,211.2 131.0,208.8 134.3,190.7 137.5,203.9 141.6,215.3 145.7,207.1 150.0,213.7 151.4,219.6 154.7,214.6 156.9,203.7 159.6,192.8 162.3,176.4 164.5,167.7 166.7,180.2 168.9,170.9 171.1,180.2 173.3,172.6 174.9,177.3 177.7,186.9 180.4,199.2 183.1,206.0 185.0,193.7 187.8,201.9 190.5,195.1 192.4,210.1 195.1,204.6 197.9,200.5 200.6,208.7 203.3,204.6 206.1,214.2 208.8,221.0 211.5,237.4 214.3,256.6 217.0,274.3 219.7,277.0 222.5,278.4 225.2,275.7 227.9,267.5 230.7,253.8 233.4,244.3 236.1,249.7 238.9,242.9 241.6,237.4 244.3,234.7 247.9,234.7 250.6,229.2 253.3,216.9 256.1,203.3 258.8,197.8 261.5,201.9 264.3,206.0 267.0,214.2 269.6,216.5 271.9,227.4 274.5,216.5 276.8,207.4 279.2,200.1 281.4,201.9 283.6,195.6 285.9,201.9 287.8,198.3 290.1,194.6 292.0,208.3 293.8,203.8 296.0,192.8 298.2,181.9 300.0,171.9 301.8,178.3 303.6,167.3 305.4,168.2 307.8,174.6 309.6,183.7 311.4,194.6 313.3,205.6 315.1,220.1 316.4,232.9 318.2,223.8 320.0,220.1 322.4,217.4 324.7,214.7 326.9,191.0 329.1,180.1 331.5,171.0 333.9,168.2 336.0,172.8 338.8,183.7 341.5,180.1 343.7,184.6 346.1,191.0 348.4,196.5 350.6,205.6 352.8,222.0 355.2,227.4 357.9,218.3 360.1,209.2 362.4,220.1 364.1,215.1 366.3,211.5 368.1,200.6 369.9,187.8 371.8,180.5 373.6,184.2 375.4,193.3 377.2,203.3 379.6,196.9 382.0,193.3 384.1,187.8 386.0,198.8 387.8,202.4 390.0,204.2 392.3,206.9 394.7,209.7 396.9,211.5 398.7,209.7 400.9,217.0 402.7,207.9 405.1,193.3 407.8,184.2 410.0,177.8 411.8,173.3 413.7,164.1 415.1,171.4 417.3,176.0 419.1,175.1 420.9,187.8 423.9,204.2 426.0,203.3 428.2,189.6 430.0,197.8 431.9,208.8 434.2,207.9 436.6,207.9 438.8,209.7 441.0,196.0 443.3,202.4 445.7,215.1 447.9,195.1 450.1,207.9 452.4,199.7 454.6,196.9 456.4,204.2 458.2,211.5 460.6,201.5 462.4,195.1 464.2,206.0 466.0,200.6 467.9,186.0 470.0,189.6 472.2,184.2 474.0,176.0 475.9,169.6 477.7,166.0 479.5,178.7 481.3,183.3 483.7,187.8 486.1,180.5 488.3,184.2 490.4,189.6 492.8,191.5 495.2,184.2 497.7,177.8 500.1,178.7 502.5,182.4 504.6,193.3 506.8,197.8 508.7,187.8 511.0,179.6 512.8,180.5 514.7,189.6 517.0,179.6 519.2,176.9 521.9,170.5 524.3,178.7 526.5,186.9 528.7,196.9 531.1,187.8 533.4,186.0 535.6,191.5 537.8,200.6 540.2,212.4 542.5,216.1 544.7,209.7 546.9,211.5 549.0,211.5 551.4,215.1 553.7,207.9 555.6,198.8 557.8,181.4 559.9,182.4 561.8,187.8 563.2,198.8 565.4,199.7 567.8,198.8 570.1,203.3 572.3,200.6 574.5,204.2 576.3,206.0 578.7,195.1 580.5,184.2 583.3,186.0 585.4,195.1 587.3,196.9 589.6,185.1 592.0,176.0 594.2,176.9 596.4,182.4 598.7,183.3 600.6,178.7 602.9,169.6 605.1,180.5 607.3,187.8 609.7,200.6 612.0,205.1 614.2,209.7 616.4,220.6 618.2,226.1 619.7,228.8 621.5,215.1 623.3,200.6 625.1,208.8 627.3,206.0 629.2,202.4 631.5,195.1 633.9,182.4 635.7,175.1 637.5,169.6 639.4,174.2 641.2,182.4 643.4,183.3 645.5,185.6 648.2,178.8 650.9,189.7 653.7,200.6 656.4,195.2 659.1,193.8 661.9,195.2 664.6,202.0 667.3,203.4 670.1,208.8 672.8,212.9 675.5,214.3 678.3,222.5 680.0,228.2 682.0,233.9 684.1,240.5 685.7,245.4 687.9,248.7 689.8,240.5 691.1,238.0 692.8,239.7 694.8,225.7 696.4,226.6 697.7,228.2 699.3,219.2 701.0,216.7 702.6,218.4 704.3,211.0 705.4,205.2 706.6,214.3 707.9,228.2 709.8,233.9 712.0,230.7 714.4,226.6 716.1,232.3 717.7,237.2 719.3,224.1 721.0,215.9 723.0,207.7 724.6,197.9 726.2,184.8 727.5,176.6 728.9,183.1 730.0,189.7 732.1,186.4 734.1,191.3 736.6,190.5 738.2,196.2 740.0,205.2 740.5,203.8 743.2,209.2 745.9,209.2 748.7,203.8 751.4,210.6 754.1,217.4 756.9,209.2 759.6,210.6 761.8,228.4 764.5,212.0 767.2,201.0 770.0,184.6 772.7,171.0 775.4,175.1 776.5,187.4 778.7,172.3 780.9,168.3 783.6,181.9 786.4,187.4 789.1,195.6 791.8,202.4 794.6,195.6 797.3,212.0 800.0,233.8 802.8,232.5 805.5,235.2 808.2,225.6 811.0,217.4 813.7,209.2 816.4,203.8 819.2,217.4 821.9,225.6 824.6,229.7 827.3,244.8 830.1,261.1 831.9,273.7 832.0,272.1 834.1,267.1 836.3,260.5 838.5,258.4 840.7,262.7 843.3,263.8 845.5,258.4 848.1,254.0 849.9,254.0 852.0,262.7 854.7,264.9 856.9,271.5 859.7,267.1 861.9,266.0 864.1,273.7 866.3,274.8 868.4,271.5 870.6,263.8 872.8,257.3 875.0,250.7 876.6,244.1 878.3,234.3 879.9,229.3 881.6,226.9 883.2,231.0 884.5,233.4 885.7,224.4 886.8,217.0 888.1,221.1 889.4,224.4 890.6,220.3 891.7,216.2 893.4,215.4 894.7,217.0 896.3,232.6 898.0,237.5 899.3,239.2 900.9,231.0 902.0,235.9 903.2,239.2 904.5,241.6 906.1,242.5 907.8,253.9 909.1,256.4 910.7,252.3 912.7,242.5 914.3,234.3 916.0,228.5 918.0,226.1 919.3,232.6 920.9,244.1 922.5,246.6 924.2,249.8 925.8,253.1 927.5,257.2 929.1,262.1 930.7,265.4 932.4,258.9 935.0,249.0 935.8,245.7 938.6,232.0 941.3,215.6 944.0,210.2 946.8,207.4 949.5,203.3 952.2,211.5 955.0,202.0 957.7,203.3 960.4,208.8 963.2,207.4 965.9,214.3 968.1,219.7 969.7,210.2 972.5,215.6 975.2,206.1 977.9,199.2 980.1,185.6 983.4,181.5 985.6,177.4 988.3,185.6 991.6,189.7 995.1,185.6 997.9,192.4 999.8,200.6 1002.5,196.5 1004.7,180.1 1006.9,167.8 1009.6,173.3 1012.3,181.5 1015.1,184.2 1016.1,181.4 1017.0,180.1 1017.7,186.8 1018.9,185.6 1019.2,195.6 1021.4,199.9 1023.6,208.7 1025.7,205.4 1027.9,214.2 1030.8,220.7 1033.0,217.4 1035.1,215.2 1037.3,218.5 1039.5,221.8 1042.3,222.9 1045.4,224.0 1047.2,217.4 1048.9,209.8 1051.1,214.2 1053.3,212.0 1054.8,224.0 1056.3,237.1 1057.3,253.1 1059.5,261.9 1061.0,268.4 1062.3,277.2 1063.4,288.1 1064.5,299.0 1065.6,309.9 1066.7,318.7 1067.8,327.4 1068.9,334.0 1070.4,339.5 1071.5,331.8 1072.6,326.3 1074.8,325.2 1077.0,320.9 1079.2,318.7 1081.4,312.1 1083.6,307.8 1085.7,306.7 1087.9,307.8 1090.1,305.6 1092.3,303.4 1093.8,309.9 1095.6,316.5 1097.8,317.6 1099.0,322.1 1101.0,328.1 1103.0,336.1 1105.0,347.1 1107.0,357.1 1109.0,364.1 1111.0,366.2 1113.0,365.2 1115.0,368.2 1117.0,369.2 1119.0,367.2 1121.1,364.1 1123.1,360.1 1125.1,359.1 1127.1,360.1 1129.1,356.1 1131.1,354.1 1133.1,349.1 1135.1,348.1 1137.1,354.1 1139.1,359.1 1141.1,356.1 1143.1,354.1 1145.1,360.1 1147.1,361.1 1149.1,362.1 1151.1,361.1 1153.1,362.1 1155.1,354.1 1157.1,353.1 1159.1,355.1 1161.1,352.1 1163.1,348.1 1165.1,350.1 1167.1,352.1 1169.1,351.1 1170.8,347.1 1172.8,352.1 1174.0,354.1 1176.0,359.1 1178.0,357.1 1180.0,358.1 1182.0,359.7 1184.0,359.1 1186.0,360.1 1188.0,372.2 1190.0,382.2 1192.0,384.2 1194.0,386.2 1196.1,387.2 1198.1,387.2 1200.1,388.2 1202.1,388.2 1204.1,380.2 1206.1,370.2 1208.1,360.1 1210.1,354.1 1212.1,351.1 1214.1,350.1 1216.1,347.1 1218.1,344.1 1220.1,341.1 1222.1,346.1 1224.1,349.1 1226.1,351.1 1228.1,347.1 1230.1,346.1 1232.1,344.1 1234.1,338.1 1235.7,336.1 1237.1,343.1 1239.1,341.1 1241.1,338.1 1243.1,338.1 1245.2,337.1 1247.2,336.1 1249.0,340.1 1251.0,341.1 1253.0,336.1 1255.0,331.1 1257.0,330.1 1259.0,324.1 1261.0,317.1 1263.0,313.1 1265.0,308.1 1267.0,304.0 1269.0,304.0 1271.1,305.1 1273.1,304.0 1275.1,304.0 1277.1,308.1 1279.1,316.1 1281.1,322.1 1283.1,321.1 1285.1,323.1 1287.1,320.1 1289.1,317.1 1291.1,320.1 1293.1,320.1 1295.1,316.1 1297.1,315.1 1298.7,316.1 1300.1,326.1 1302.1,320.1 1304.1,326.1 1306.1,325.1 1308.1,328.1 1310.1,338.1 1312.1,347.1 1314.1,346.1 1316.1,346.1 1318.1,352.1 1320.2,356.2 1322.2,357.2 1324.0,359.2 1326.0,360.2 1328.0,357.2 1330.0,354.2 1332.0,350.2 1334.0,346.2 1336.0,340.1 1337.6,337.1 1339.0,345.2 1341.0,342.1 1343.0,346.2 1345.1,347.2 1347.1,347.2 1349.1,352.2 1351.1,358.2 1353.1,361.2 1355.1,358.2 1357.1,351.2 1359.1,346.2 1361.1,342.1 1363.1,344.1 1365.1,345.2 1367.1,343.1 1369.1,338.1 1371.1,332.1 1373.1,326.1 1375.1,322.1 1377.1,320.1 1379.1,315.1 1381.1,306.1 1383.1,306.1 1385.1,310.1 1387.1,314.1 1389.1,316.1 1391.1,324.1 1393.1,326.1 1395.2,326.1 1397.2,330.1 1398.8,338.1 1400.6,332.1 1402.6,322.1 1404.6,310.1 1406.6,304.1 1408.6,298.1 1410.6,300.1 1412.6,304.1 1414.6,305.1 1416.6,306.1 1418.6,308.1 1420.7,312.1 1422.7,310.1 1424.7,317.1 1426.1,320.1 1428.1,315.1 1430.1,312.1 1432.1,308.1 1434.1,303.1 1436.1,302.1 1437.5,300.1 1439.1,312.1 1441.1,310.1 1443.1,308.1 1445.1,305.1 1447.1,306.1 1448.7,303.1 1450.7,310.1 1452.7,313.1 1454.7,322.1 1456.7,312.1 1458.7,311.1 1460.7,316.1 1462.7,315.1 1464.7,313.1 1466.7,312.1 1468.7,322.1 1470.8,316.1 1472.8,314.1 1474.0,316.1 1476.0,315.1 1478.0,311.1 1479.6,308.1 1481.6,312.1 1483.6,320.1 1485.6,317.1 1487.6,309.1 1489.6,307.1 1491.6,306.1 1493.6,297.1 1495.7,303.1 1497.7,308.1 1499.7,297.1 1501.7,295.1 1503.7,294.1 1505.7,298.1 1507.7,294.1 1509.7,301.1 1511.7,299.1 1513.7,301.1 1515.7,307.1 1517.7,308.1 1519.7,307.1 1521.7,308.1 1523.7,311.1 1525.7,319.1 1527.7,321.1 1529.7,324.1 1531.7,329.1 1533.7,334.1 1535.7,332.1 1537.7,331.1 1539.7,322.1 1541.7,314.1 1543.7,313.1 1545.8,312.1 1547.8,298.1 1549.0,299.1 1551.0,298.1 1553.0,297.1 1555.0,295.1 1557.0,293.1 1559.0,295.1 1561.0,296.1 1563.0,298.1 1565.0,303.1 1567.0,297.1 1569.0,296.1 1571.1,296.1 1573.1,298.1 1575.1,301.1 1577.1,304.1 1579.1,301.1 1581.1,302.1 1583.1,302.1 1585.1,302.1 1587.1,303.1 1589.1,306.1 1591.1,310.1 1593.1,307.1 1595.1,314.1 1597.1,319.1 1599.1,312.1 1601.1,303.1 1603.1,308.1 1605.1,304.1 1607.1,302.1 1609.1,308.1 1611.1,318.1 1613.1,310.1 1615.1,309.1 1617.1,308.1 1619.1,313.1 1621.2,312.1 1623.2,303.1 1624.0,306.1 1626.0,298.1 1628.0,292.1 1630.0,290.1 1632.0,292.1 1634.0,295.1 1636.0,298.1 1638.0,301.1 1640.0,297.1 1642.0,299.1 1644.0,292.1 1646.1,287.1 1648.1,286.1 1650.1,287.1 1652.1,287.1 1654.1,290.1 1655.7,283.1 1657.7,295.1 1659.7,298.1 1661.7,307.1 1663.7,315.1 1665.7,319.1 1667.7,314.1 1669.7,307.1 1671.7,310.1 1673.7,300.1 1675.7,293.1 1677.7,291.1 1679.7,295.1 1681.7,296.1 1683.7,292.1 1685.7,303.1 1687.7,299.1 1689.7,298.1 1691.7,304.1 1693.7,305.1 1695.8,303.1 1697.8,301.1 1699.0,296.1 1701.0,291.1 1703.0,289.1 1705.0,285.1 1707.0,281.1 1709.0,280.1 1711.0,283.1 1713.0,282.1 1715.0,286.1 1717.0,296.1 1719.0,302.1 1721.1,306.1 1723.1,312.1 1725.1,314.1 1727.1,311.1 1729.1,309.1 1731.1,312.1 1733.1,314.1 1735.1,310.1 1737.1,302.1 1739.1,298.1 1741.1,297.1 1743.1,308.1 1745.1,307.1 1747.1,302.1 1749.1,297.1 1751.1,292.1 1753.1,294.1 1755.1,301.1 1757.1,296.1 1759.1,292.1 1761.1,289.1 1763.1,286.1 1765.1,281.7 1767.1,290.1 1769.1,302.1 1771.2,308.1 1773.2,306.1 1774.0,307.1 1776.0,312.1 1778.0,318.1 1780.0,328.2 1782.0,332.2 1784.0,336.2 1786.0,336.2 1788.0,333.2 1790.0,331.2 1792.0,334.2 1794.0,327.2 1796.1,322.1 1798.1,317.1 1800.1,314.1 1802.1,310.1 1804.1,308.1 1806.1,308.1 1808.1,307.1 1810.1,305.1 1812.1,310.1 1814.1,314.1 1816.1,310.1 1818.1,306.1 1820.1,305.1 1822.1,308.1 1824.1,309.1 1826.1,310.1 1828.1,313.1 1830.1,314.1 1832.1,319.1 1834.1,324.1 1836.1,318.1 1838.1,312.1 1840.1,304.1 1842.1,300.1 1844.1,290.1 1846.2,291.1 1848.2,290.1 1850.2,281.1 1852.2,283.1 1853.2,292.1 1855.4,299.1 1855.7,299.1" fill="none" stroke="#6ED0E0" stroke-opacity="0.35" stroke-width="2.7" stroke-linejoin="round"/><polyline points="92.1,181.7 93.0,181.7 95.7,196.5 98.2,193.2 100.7,194.8 103.1,191.6 105.6,192.4 108.0,188.3 113.0,183.9 117.9,190.7 121.1,180.1 122.8,179.3 125.2,189.1 128.0,211.2 131.0,208.8 134.3,190.7 137.5,203.9 141.6,215.3 145.7,207.1 150.0,213.7 151.4,219.6 154.7,214.6 156.9,203.7 159.6,192.8 162.3,176.4 164.5,167.7 166.7,180.2 168.9,170.9 171.1,180.2 173.3,172.6 174.9,177.3 177.7,186.9 180.4,199.2 183.1,206.0 185.0,193.7 187.8,201.9 190.5,195.1 192.4,210.1 195.1,204.6 197.9,200.5 200.6,208.7 203.3,204.6 206.1,214.2 208.8,221.0 211.5,237.4 214.3,256.6 217.0,274.3 219.7,277.0 222.5,278.4 225.2,275.7 227.9,267.5 230.7,253.8 233.4,244.3 236.1,249.7 238.9,242.9 241.6,237.4 244.3,234.7 247.9,234.7 250.6,229.2 253.3,216.9 256.1,203.3 258.8,197.8 261.5,201.9 264.3,206.0 267.0,214.2 269.6,216.5 271.9,227.4 274.5,216.5 276.8,207.4 279.2,200.1 281.4,201.9 283.6,195.6 285.9,201.9 287.8,198.3 290.1,194.6 292.0,208.3 293.8,203.8 296.0,192.8 298.2,181.9 300.0,171.9 301.8,178.3 303.6,167.3 305.4,168.2 307.8,174.6 309.6,183.7 311.4,194.6 313.3,205.6 315.1,220.1 316.4,232.9 318.2,223.8 320.0,220.1 322.4,217.4 324.7,214.7 326.9,191.0 329.1,180.1 331.5,171.0 333.9,168.2 336.0,172.8 338.8,183.7 341.5,180.1 343.7,184.6 346.1,191.0 348.4,196.5 350.6,205.6 352.8,222.0 355.2,227.4 357.9,218.3 360.1,209.2 362.4,220.1 364.1,215.1 366.3,211.5 368.1,200.6 369.9,187.8 371.8,180.5 373.6,184.2 375.4,193.3 377.2,203.3 379.6,196.9 382.0,193.3 384.1,187.8 386.0,198.8 387.8,202.4 390.0,204.2 392.3,206.9 394.7,209.7 396.9,211.5 398.7,209.7 400.9,217.0 402.7,207.9 405.1,193.3 407.8,184.2 410.0,177.8 411.8,173.3 413.7,164.1 415.1,171.4 417.3,176.0 419.1,175.1 420.9,187.8 423.9,204.2 426.0,203.3 428.2,189.6 430.0,197.8 431.9,208.8 434.2,207.9 436.6,207.9 438.8,209.7 441.0,196.0 443.3,202.4 445.7,215.1 447.9,195.1 450.1,207.9 452.4,199.7 454.6,196.9 456.4,204.2 458.2,211.5 460.6,201.5 462.4,195.1 464.2,206.0 466.0,200.6 467.9,186.0 470.0,189.6 472.2,184.2 474.0,176.0 475.9,169.6 477.7,166.0 479.5,178.7 481.3,183.3 483.7,187.8 486.1,180.5 488.3,184.2 490.4,189.6 492.8,191.5 495.2,184.2 497.7,177.8 500.1,178.7 502.5,182.4 504.6,193.3 506.8,197.8 508.7,187.8 511.0,179.6 512.8,180.5 514.7,189.6 517.0,179.6 519.2,176.9 521.9,170.5 524.3,178.7 526.5,186.9 528.7,196.9 531.1,187.8 533.4,186.0 535.6,191.5 537.8,200.6 540.2,212.4 542.5,216.1 544.7,209.7 546.9,211.5 549.0,211.5 551.4,215.1 553.7,207.9 555.6,198.8 557.8,181.4 559.9,182.4 561.8,187.8 563.2,198.8 565.4,199.7 567.8,198.8 570.1,203.3 572.3,200.6 574.5,204.2 576.3,206.0 578.7,195.1 580.5,184.2 583.3,186.0 585.4,195.1 587.3,196.9 589.6,185.1 592.0,176.0 594.2,176.9 596.4,182.4 598.7,183.3 600.6,178.7 602.9,169.6 605.1,180.5 607.3,187.8 609.7,200.6 612.0,205.1 614.2,209.7 616.4,220.6 618.2,226.1 619.7,228.8 621.5,215.1 623.3,200.6 625.1,208.8 627.3,206.0 629.2,202.4 631.5,195.1 633.9,182.4 635.7,175.1 637.5,169.6 639.4,174.2 641.2,182.4 643.4,183.3 645.5,185.6 648.2,178.8 650.9,189.7 653.7,200.6 656.4,195.2 659.1,193.8 661.9,195.2 664.6,202.0 667.3,203.4 670.1,208.8 672.8,212.9 675.5,214.3 678.3,222.5 680.0,228.2 682.0,233.9 684.1,240.5 685.7,245.4 687.9,248.7 689.8,240.5 691.1,238.0 692.8,239.7 694.8,225.7 696.4,226.6 697.7,228.2 699.3,219.2 701.0,216.7 702.6,218.4 704.3,211.0 705.4,205.2 706.6,214.3 707.9,228.2 709.8,233.9 712.0,230.7 714.4,226.6 716.1,232.3 717.7,237.2 719.3,224.1 721.0,215.9 723.0,207.7 724.6,197.9 726.2,184.8 727.5,176.6 728.9,183.1 730.0,189.7 732.1,186.4 734.1,191.3 736.6,190.5 738.2,196.2 740.0,205.2 740.5,203.8 743.2,209.2 745.9,209.2 748.7,203.8 751.4,210.6 754.1,217.4 756.9,209.2 759.6,210.6 761.8,228.4 764.5,212.0 767.2,201.0 770.0,184.6 772.7,171.0 775.4,175.1 776.5,187.4 778.7,172.3 780.9,168.3 783.6,181.9 786.4,187.4 789.1,195.6 791.8,202.4 794.6,195.6 797.3,212.0 800.0,233.8 802.8,232.5 805.5,235.2 808.2,225.6 811.0,217.4 813.7,209.2 816.4,203.8 819.2,217.4 821.9,225.6 824.6,229.7 827.3,244.8 830.1,261.1 831.9,273.7 832.0,272.1 834.1,267.1 836.3,260.5 838.5,258.4 840.7,262.7 843.3,263.8 845.5,258.4 848.1,254.0 849.9,254.0 852.0,262.7 854.7,264.9 856.9,271.5 859.7,267.1 861.9,266.0 864.1,273.7 866.3,274.8 868.4,271.5 870.6,263.8 872.8,257.3 875.0,250.7 876.6,244.1 878.3,234.3 879.9,229.3 881.6,226.9 883.2,231.0 884.5,233.4 885.7,224.4 886.8,217.0 888.1,221.1 889.4,224.4 890.6,220.3 891.7,216.2 893.4,215.4 894.7,217.0 896.3,232.6 898.0,237.5 899.3,239.2 900.9,231.0 902.0,235.9 903.2,239.2 904.5,241.6 906.1,242.5 907.8,253.9 909.1,256.4 910.7,252.3 912.7,242.5 914.3,234.3 916.0,228.5 918.0,226.1 919.3,232.6 920.9,244.1 922.5,246.6 924.2,249.8 925.8,253.1 927.5,257.2 929.1,262.1 930.7,265.4 932.4,258.9 935.0,249.0 935.8,245.7 938.6,232.0 941.3,215.6 944.0,210.2 946.8,207.4 949.5,203.3 952.2,211.5 955.0,202.0 957.7,203.3 960.4,208.8 963.2,207.4 965.9,214.3 968.1,219.7 969.7,210.2 972.5,215.6 975.2,206.1 977.9,199.2 980.1,185.6 983.4,181.5 985.6,177.4 988.3,185.6 991.6,189.7 995.1,185.6 997.9,192.4 999.8,200.6 1002.5,196.5 1004.7,180.1 1006.9,167.8 1009.6,173.3 1012.3,181.5 1015.1,184.2 1016.1,181.4 1017.0,180.1 1017.7,186.8 1018.9,185.6 1019.2,195.6 1021.4,199.9 1023.6,208.7 1025.7,205.4 1027.9,214.2 1030.8,220.7 1033.0,217.4 1035.1,215.2 1037.3,218.5 1039.5,221.8 1042.3,222.9 1045.4,224.0 1047.2,217.4 1048.9,209.8 1051.1,214.2 1053.3,212.0 1054.8,224.0 1056.3,237.1 1057.3,253.1 1059.5,261.9 1061.0,268.4 1062.3,277.2 1063.4,288.1 1064.5,299.0 1065.6,309.9 1066.7,318.7 1067.8,327.4 1068.9,334.0 1070.4,339.5 1071.5,331.8 1072.6,326.3 1074.8,325.2 1077.0,320.9 1079.2,318.7 1081.4,312.1 1083.6,307.8 1085.7,306.7 1087.9,307.8 1090.1,305.6 1092.3,303.4 1093.8,309.9 1095.6,316.5 1097.8,317.6 1099.0,322.1 1101.0,328.1 1103.0,336.1 1105.0,347.1 1107.0,357.1 1109.0,364.1 1111.0,366.2 1113.0,365.2 1115.0,368.2 1117.0,369.2 1119.0,367.2 1121.1,364.1 1123.1,360.1 1125.1,359.1 1127.1,360.1 1129.1,356.1 1131.1,354.1 1133.1,349.1 1135.1,348.1 1137.1,354.1 1139.1,359.1 1141.1,356.1 1143.1,354.1 1145.1,360.1 1147.1,361.1 1149.1,362.1 1151.1,361.1 1153.1,362.1 1155.1,354.1 1157.1,353.1 1159.1,355.1 1161.1,352.1 1163.1,348.1 1165.1,350.1 1167.1,352.1 1169.1,351.1 1170.8,347.1 1172.8,352.1 1174.0,354.1 1176.0,359.1 1178.0,357.1 1180.0,358.1 1182.0,359.7 1184.0,359.1 1186.0,360.1 1188.0,372.2 1190.0,382.2 1192.0,384.2 1194.0,386.2 1196.1,387.2 1198.1,387.2 1200.1,388.2 1202.1,388.2 1204.1,380.2 1206.1,370.2 1208.1,360.1 1210.1,354.1 1212.1,351.1 1214.1,350.1 1216.1,347.1 1218.1,344.1 1220.1,341.1 1222.1,346.1 1224.1,349.1 1226.1,351.1 1228.1,347.1 1230.1,346.1 1232.1,344.1 1234.1,338.1 1235.7,336.1 1237.1,343.1 1239.1,341.1 1241.1,338.1 1243.1,338.1 1245.2,337.1 1247.2,336.1 1249.0,340.1 1251.0,341.1 1253.0,336.1 1255.0,331.1 1257.0,330.1 1259.0,324.1 1261.0,317.1 1263.0,313.1 1265.0,308.1 1267.0,304.0 1269.0,304.0 1271.1,305.1 1273.1,304.0 1275.1,304.0 1277.1,308.1 1279.1,316.1 1281.1,322.1 1283.1,321.1 1285.1,323.1 1287.1,320.1 1289.1,317.1 1291.1,320.1 1293.1,320.1 1295.1,316.1 1297.1,315.1 1298.7,316.1 1300.1,326.1 1302.1,320.1 1304.1,326.1 1306.1,325.1 1308.1,328.1 1310.1,338.1 1312.1,347.1 1314.1,346.1 1316.1,346.1 1318.1,352.1 1320.2,356.2 1322.2,357.2 1324.0,359.2 1326.0,360.2 1328.0,357.2 1330.0,354.2 1332.0,350.2 1334.0,346.2 1336.0,340.1 1337.6,337.1 1339.0,345.2 1341.0,342.1 1343.0,346.2 1345.1,347.2 1347.1,347.2 1349.1,352.2 1351.1,358.2 1353.1,361.2 1355.1,358.2 1357.1,351.2 1359.1,346.2 1361.1,342.1 1363.1,344.1 1365.1,345.2 1367.1,343.1 1369.1,338.1 1371.1,332.1 1373.1,326.1 1375.1,322.1 1377.1,320.1 1379.1,315.1 1381.1,306.1 1383.1,306.1 1385.1,310.1 1387.1,314.1 1389.1,316.1 1391.1,324.1 1393.1,326.1 1395.2,326.1 1397.2,330.1 1398.8,338.1 1400.6,332.1 1402.6,322.1 1404.6,310.1 1406.6,304.1 1408.6,298.1 1410.6,300.1 1412.6,304.1 1414.6,305.1 1416.6,306.1 1418.6,308.1 1420.7,312.1 1422.7,310.1 1424.7,317.1 1426.1,320.1 1428.1,315.1 1430.1,312.1 1432.1,308.1 1434.1,303.1 1436.1,302.1 1437.5,300.1 1439.1,312.1 1441.1,310.1 1443.1,308.1 1445.1,305.1 1447.1,306.1 1448.7,303.1 1450.7,310.1 1452.7,313.1 1454.7,322.1 1456.7,312.1 1458.7,311.1 1460.7,316.1 1462.7,315.1 1464.7,313.1 1466.7,312.1 1468.7,322.1 1470.8,316.1 1472.8,314.1 1474.0,316.1 1476.0,315.1 1478.0,311.1 1479.6,308.1 1481.6,312.1 1483.6,320.1 1485.6,317.1 1487.6,309.1 1489.6,307.1 1491.6,306.1 1493.6,297.1 1495.7,303.1 1497.7,308.1 1499.7,297.1 1501.7,295.1 1503.7,294.1 1505.7,298.1 1507.7,294.1 1509.7,301.1 1511.7,299.1 1513.7,301.1 1515.7,307.1 1517.7,308.1 1519.7,307.1 1521.7,308.1 1523.7,311.1 1525.7,319.1 1527.7,321.1 1529.7,324.1 1531.7,329.1 1533.7,334.1 1535.7,332.1 1537.7,331.1 1539.7,322.1 1541.7,314.1 1543.7,313.1 1545.8,312.1 1547.8,298.1 1549.0,299.1 1551.0,298.1 1553.0,297.1 1555.0,295.1 1557.0,293.1 1559.0,295.1 1561.0,296.1 1563.0,298.1 1565.0,303.1 1567.0,297.1 1569.0,296.1 1571.1,296.1 1573.1,298.1 1575.1,301.1 1577.1,304.1 1579.1,301.1 1581.1,302.1 1583.1,302.1 1585.1,302.1 1587.1,303.1 1589.1,306.1 1591.1,310.1 1593.1,307.1 1595.1,314.1 1597.1,319.1 1599.1,312.1 1601.1,303.1 1603.1,308.1 1605.1,304.1 1607.1,302.1 1609.1,308.1 1611.1,318.1 1613.1,310.1 1615.1,309.1 1617.1,308.1 1619.1,313.1 1621.2,312.1 1623.2,303.1 1624.0,306.1 1626.0,298.1 1628.0,292.1 1630.0,290.1 1632.0,292.1 1634.0,295.1 1636.0,298.1 1638.0,301.1 1640.0,297.1 1642.0,299.1 1644.0,292.1 1646.1,287.1 1648.1,286.1 1650.1,287.1 1652.1,287.1 1654.1,290.1 1655.7,283.1 1657.7,295.1 1659.7,298.1 1661.7,307.1 1663.7,315.1 1665.7,319.1 1667.7,314.1 1669.7,307.1 1671.7,310.1 1673.7,300.1 1675.7,293.1 1677.7,291.1 1679.7,295.1 1681.7,296.1 1683.7,292.1 1685.7,303.1 1687.7,299.1 1689.7,298.1 1691.7,304.1 1693.7,305.1 1695.8,303.1 1697.8,301.1 1699.0,296.1 1701.0,291.1 1703.0,289.1 1705.0,285.1 1707.0,281.1 1709.0,280.1 1711.0,283.1 1713.0,282.1 1715.0,286.1 1717.0,296.1 1719.0,302.1 1721.1,306.1 1723.1,312.1 1725.1,314.1 1727.1,311.1 1729.1,309.1 1731.1,312.1 1733.1,314.1 1735.1,310.1 1737.1,302.1 1739.1,298.1 1741.1,297.1 1743.1,308.1 1745.1,307.1 1747.1,302.1 1749.1,297.1 1751.1,292.1 1753.1,294.1 1755.1,301.1 1757.1,296.1 1759.1,292.1 1761.1,289.1 1763.1,286.1 1765.1,281.7 1767.1,290.1 1769.1,302.1 1771.2,308.1 1773.2,306.1 1774.0,307.1 1776.0,312.1 1778.0,318.1 1780.0,328.2 1782.0,332.2 1784.0,336.2 1786.0,336.2 1788.0,333.2 1790.0,331.2 1792.0,334.2 1794.0,327.2 1796.1,322.1 1798.1,317.1 1800.1,314.1 1802.1,310.1 1804.1,308.1 1806.1,308.1 1808.1,307.1 1810.1,305.1 1812.1,310.1 1814.1,314.1 1816.1,310.1 1818.1,306.1 1820.1,305.1 1822.1,308.1 1824.1,309.1 1826.1,310.1 1828.1,313.1 1830.1,314.1 1832.1,319.1 1834.1,324.1 1836.1,318.1 1838.1,312.1 1840.1,304.1 1842.1,300.1 1844.1,290.1 1846.2,291.1 1848.2,290.1 1850.2,281.1 1852.2,283.1 1853.2,292.1 1855.4,299.1 1855.7,299.1" fill="none" stroke="#6ED0E0" stroke-width="1.3" stroke-linejoin="round"/>
</svg>
<div class="yl" style="top:61.7px">100.0%</div><div class="yl" style="top:139.8px">80.0%</div><div class="yl" style="top:218.1px">60.0%</div><div class="yl" style="top:296.3px">40.0%</div><div class="yl" style="top:374.3px">20.0%</div><div class="yl" style="top:452.7px">0%</div>
<div class="xl" style="left:84.8px">20:20</div><div class="xl" style="left:183.9px">20:30</div><div class="xl" style="left:281.4px">20:40</div><div class="xl" style="left:378.9px">20:50</div><div class="xl" style="left:476.3px">21:00</div><div class="xl" style="left:575.6px">21:10</div><div class="xl" style="left:673.1px">21:20</div><div class="xl" style="left:770.6px">21:30</div><div class="xl" style="left:868.0px">21:40</div><div class="xl" style="left:967.4px">21:50</div><div class="xl" style="left:1064.8px">22:00</div><div class="xl" style="left:1162.5px">22:10</div><div class="xl" style="left:1259.9px">22:20</div><div class="xl" style="left:1358.9px">22:30</div><div class="xl" style="left:1456.7px">22:40</div><div class="xl" style="left:1553.9px">22:50</div><div class="xl" style="left:1651.9px">23:00</div><div class="xl" style="left:1750.9px">23:10</div>
<div class="sw" style="left:48px;background:#7EB26D"></div>
<div class="lg" style="left:72px">synapse_federation_reader-1</div>
<div class="sw" style="left:300px;background:#EAB839"></div>
<div class="lg" style="left:324px">synapse_federation_reader-2</div>
<div class="sw" style="left:552px;background:#6ED0E0"></div>
<div class="lg" style="left:576px">synapse_federation_reader-3</div>
</body></html>
